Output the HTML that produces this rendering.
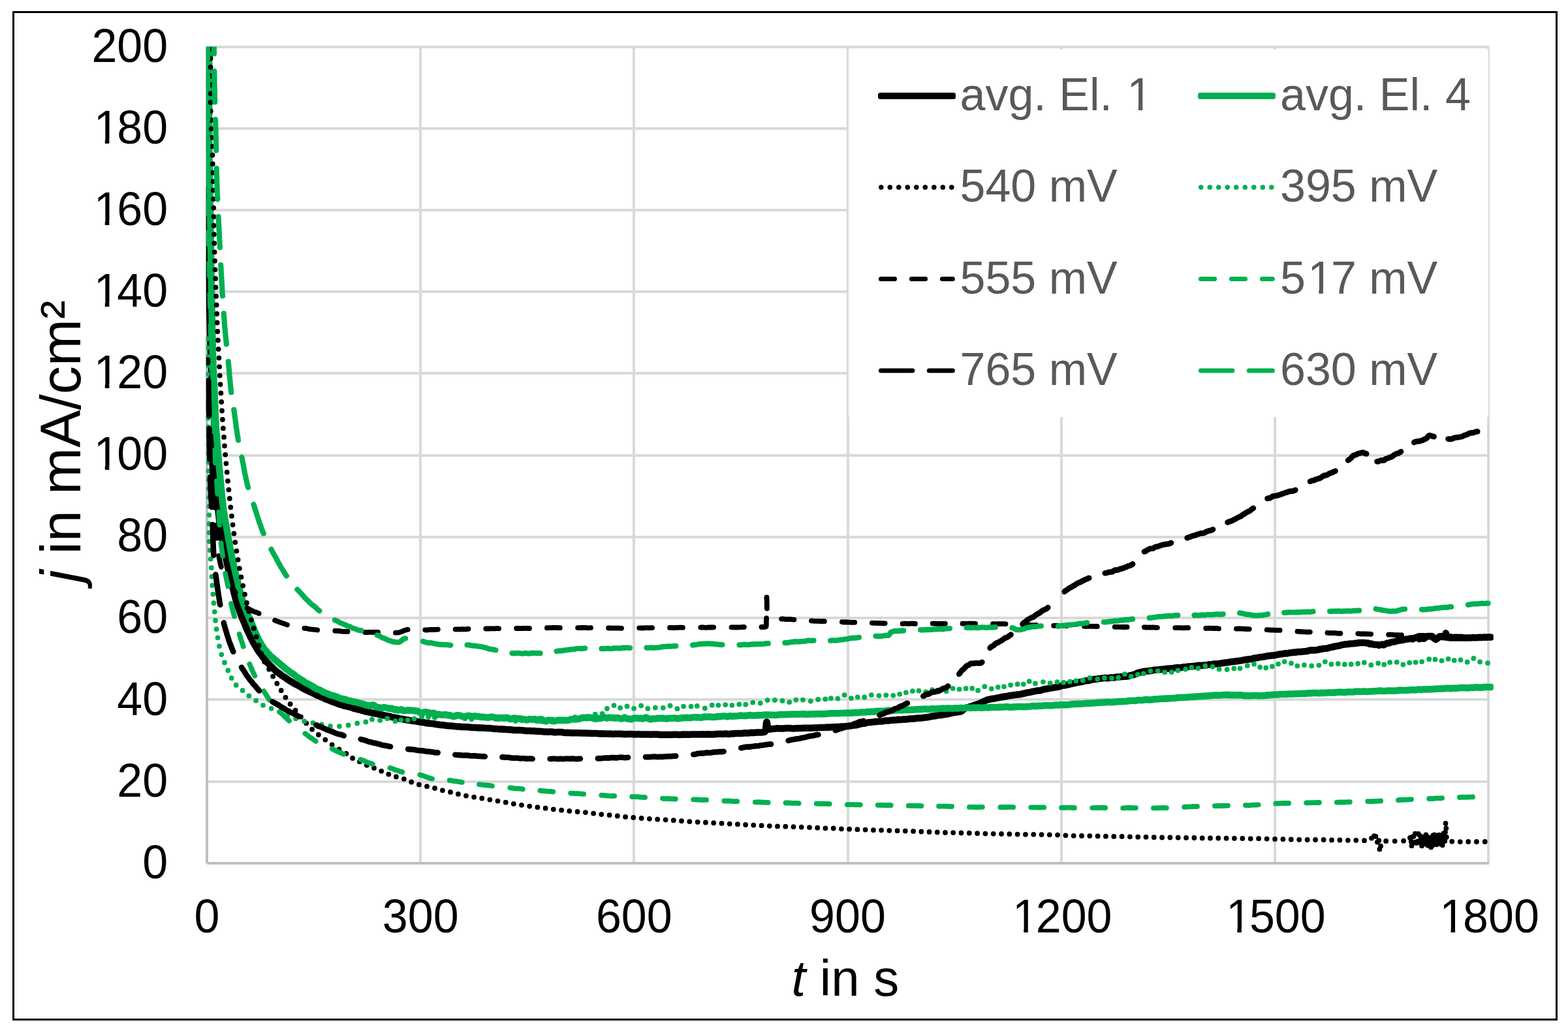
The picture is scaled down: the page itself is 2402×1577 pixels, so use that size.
<!DOCTYPE html>
<html lang="en">
<head>
<meta charset="utf-8">
<title>j in mA/cm² versus t in s</title>
<style>
html,body{margin:0;padding:0;background:#fff;}
body{width:2402px;height:1577px;overflow:hidden;}
svg{display:block;position:absolute;left:0;top:0;}
text{font-family:"Liberation Sans",Arial,Helvetica,sans-serif;}
.tick{font-size:70px;fill:#000;}
.leg{font-size:70px;fill:#595959;}
.grid{stroke:#D9D9D9;stroke-width:4;fill:none;}
.axis{stroke:#BFBFBF;stroke-width:4;fill:none;}
.s{fill:none;stroke-linejoin:round;stroke-linecap:round;}
.k{fill:none;stroke-linecap:butt;}
.kd{fill:none;stroke-linecap:round;}
</style>
</head>
<body>
<svg xmlns="http://www.w3.org/2000/svg" width="2402" height="1577" viewBox="0 0 2402 1577">
<rect x="0" y="0" width="2402" height="1577" fill="#fff"/>
<rect x="20.5" y="18.5" width="2364" height="1544" fill="none" stroke="#000" stroke-width="3"/>
<g class="grid">
<line x1="317" y1="72" x2="2281" y2="72"/>
<line x1="317" y1="197" x2="2281" y2="197"/>
<line x1="317" y1="322" x2="2281" y2="322"/>
<line x1="317" y1="447" x2="2281" y2="447"/>
<line x1="317" y1="572" x2="2281" y2="572"/>
<line x1="317" y1="698" x2="2281" y2="698"/>
<line x1="317" y1="823" x2="2281" y2="823"/>
<line x1="317" y1="947" x2="2281" y2="947"/>
<line x1="317" y1="1072" x2="2281" y2="1072"/>
<line x1="317" y1="1198" x2="2281" y2="1198"/>
<line x1="644" y1="72" x2="644" y2="1323"/>
<line x1="971" y1="72" x2="971" y2="1323"/>
<line x1="1299" y1="72" x2="1299" y2="1323"/>
<line x1="1626" y1="72" x2="1626" y2="1323"/>
<line x1="1953" y1="72" x2="1953" y2="1323"/>
<line x1="2280" y1="72" x2="2280" y2="1323"/>
</g>
<g class="axis">
<line x1="317" y1="72" x2="317" y2="1323"/>
<line x1="317" y1="1323" x2="2281" y2="1323"/>
</g>
<defs><clipPath id="plot"><rect x="315.8" y="71.5" width="1972" height="1253.5"/></clipPath></defs>
<g clip-path="url(#plot)">
<path class="s" d="M317.3 290L317.4 292.4L317.5 294.9L317.5 297.6L317.6 299.9L317.7 302.2L317.8 305L317.9 307.7L317.9 310L318 312.5L318.1 315.2L318.2 317.5L318.2 319.8L318.3 322.3L318.4 324.8L318.4 327.7L318.5 330.3L318.6 332.5L318.6 335.1L318.7 337.5L318.7 340L318.8 342.7L318.8 345.3L318.9 347.6L318.9 349.9L319 352.4L319 354.8L319.1 357.3L319.1 360.1L319.2 362.5L319.2 365L319.3 367.7L319.3 370L319.4 372.4L319.4 374.9L319.4 377.6L319.5 380.4L319.5 382.6L319.6 385.2L319.6 387.8L319.7 390.3L319.7 392.8L319.7 395.2L319.8 397.5L319.8 399.9L319.9 402.6L319.9 405.3L320 407.6L320 410L320 412.8L320.1 415.5L320.1 418L320.2 420.2L320.2 422.7L320.3 425.1L320.3 427.6L320.4 430L320.4 432.5L320.5 434.9L320.5 437.6L320.6 440.2L320.6 442.7L320.7 445.3L320.7 447.6L320.8 450.3L320.9 453L320.9 455.4L321 457.7L321 460.1L321.1 462.6L321.1 465.1L321.2 467.6L321.2 470L321.3 472.9L321.3 475.6L321.4 477.9L321.4 480.4L321.5 482.8L321.5 485.1L321.6 487.6L321.7 490.3L321.7 492.6L321.8 495.2L321.8 498L321.9 500.4L322 502.7L322 505.4L322.1 508L322.1 510.3L322.2 512.8L322.3 515.4L322.3 517.7L322.4 520.1L322.5 522.6L322.5 525.3L322.6 527.9L322.7 530.3L322.8 532.8L322.8 535.2L322.9 537.8L323 540.5L323.1 543L323.2 545.5L323.2 547.8L323.3 550.4L323.4 553.1L323.5 555.5L323.6 558.1L323.7 560.7L323.8 562.8L323.9 565.1L324.1 567.6L324.2 570.4L324.3 573.2L324.5 575.4L324.6 577.7L324.8 580.3L324.9 582.8L325.1 585.3L325.2 587.9L325.4 590.4L325.5 592.9L325.7 595.4L325.8 597.7L325.9 600.2L326 602.8L326.2 605.3L326.3 607.8L326.4 610.3L326.6 612.8L326.7 615.2L326.9 617.7L327 620.5L327.1 622.8L327.3 625L327.4 627.7L327.5 630.3L327.6 633.1L327.7 635.7L327.8 638.2L327.9 640.4L328 642.8L328 645.4L328.1 647.8L328.1 650.5L328.1 652.9L328.2 655.5L328.2 658.1L328.2 660.3L328.3 662.8L328.3 665.3L328.3 667.8L328.3 670.4L328.4 673L328.4 675.5L328.4 677.9L328.4 680.4L328.5 682.9L328.5 685.4L328.6 687.8L328.6 690.3L328.7 692.9L328.7 695.4L328.8 698.1L328.9 700.7L329 703.1L329.1 705.5L329.3 707.9L329.4 710.5L329.5 713.1L329.6 715.4L329.8 717.7L329.9 720.4L330 722.8L330.2 725.6L330.3 728.2L330.5 730.6L330.7 732.9L330.8 735.2L331 738.1L331.2 740.7L331.4 743.2L331.5 745.5L331.7 747.8L331.9 750.3L332.1 753L332.2 755.5L332.4 758L332.6 760.6L332.8 762.9L333 765.2L333.2 767.9L333.4 770.7L333.6 773.2L333.9 775.5L334.1 778L334.3 780.5L334.6 783.1L334.8 785.4L335.1 787.7L335.4 790.3L335.6 792.9L335.9 795.4L336.2 798L336.5 800.6L336.8 802.7L337.1 805.1L337.5 807.9L337.8 810.2L338.1 812.6L338.5 815.4L338.9 818L339.2 820.2L339.6 822.6L340 825.1L340.4 827.6L340.9 830.2L341.3 832.6L341.8 835L342.3 837.3L342.8 839.7L343.3 842.3L343.8 844.6L344.4 847.2L344.9 849.8L345.4 852.4L346 854.8L346.5 857.1L347 859.5L347.5 862.1L348.1 864.4L348.6 866.7L349.1 869.4L349.7 871.6L350.2 874.1L350.8 876.4L351.4 878.8L351.9 881.2L352.5 883.6L353.1 886.1L353.6 888.5L354.2 891.2L354.8 893.7L355.4 896.2L356 898.5L356.6 900.7L357.3 903.4L357.9 906L358.5 908.3L359.1 910.7L359.8 913.2L360.4 915.5L361.1 918.1L361.8 920.6L362.5 923L363.2 925.1L363.9 927.6L364.7 930L365.5 932.3L366.3 934.7L367.1 936.8L368 939.3L368.9 941.6L369.8 944.1L370.7 946.6L371.7 948.8L372.6 950.9L373.6 953.3L374.6 955.5L375.5 957.9L376.5 960.5L377.5 962.8L378.5 964.8L379.6 967.3L380.6 969.7L381.7 971.7L382.7 973.8L383.8 976.3L384.9 978.5L386.1 980.8L387.2 983.3L388.4 985.3L389.6 987.4L390.8 989.4L392.1 991.5L393.4 993.9L394.7 996L396.1 998L397.5 1000.2L399 1002L400.5 1003.8L402 1005.9L403.6 1008.1L405.1 1010.1L406.8 1012.2L408.4 1014.3L410.1 1015.9L411.8 1017.7L413.5 1019.6L415.2 1021.2L417 1022.8L418.8 1024.8L420.6 1026.4L422.4 1028.1L424.3 1029.7L426.3 1031L428.3 1032.5L430.3 1034L432.3 1035.8L434.4 1037L436.5 1038.2L438.6 1039.8L440.7 1041.4L442.9 1042.8L445 1044.1L447.2 1045.3L449.4 1046.7L451.5 1048L453.7 1049.1L455.8 1050.2L458 1051.3L460.2 1052.5L462.4 1054L464.6 1055.3L466.8 1056.3L469.1 1057.5L471.3 1058.5L473.6 1059.7L475.8 1060.7L478.1 1061.6L480.4 1062.8L482.7 1064.1L485 1065.2L487.2 1066L489.5 1066.8L491.8 1068L494.1 1069.1L496.4 1070.2L498.7 1071.3L501 1072.1L503.4 1072.9L505.7 1073.9L508 1074.9L510.4 1075.7L512.7 1076.5L515 1077.4L517.4 1078.5L519.8 1079.4L522.1 1080L524.5 1080.7L526.9 1081.5L529.3 1082L531.7 1082.5L534.1 1083.1L536.5 1083.8L539 1084.5L541.4 1085.5L543.8 1086L546.2 1086.7L548.7 1087.3L551.1 1087.7L553.5 1088.5L556 1089.3L558.4 1090L560.8 1090.5L563.3 1091L565.7 1091.5L568.2 1091.9L570.6 1092.7L573 1093L575.5 1093.6L577.9 1094.1L580.4 1094.6L582.8 1095.2L585.3 1095.7L587.7 1096.3L590.2 1096.7L592.6 1097.1L595.1 1097.6L597.5 1098L600 1098.9L602.4 1099.4L604.9 1099.7L607.3 1100.2L609.8 1100.8L612.2 1101.4L614.7 1101.8L617.2 1102.3L619.6 1102.6L622.1 1103.1L624.6 1103.5L627 1103.9L629.5 1104.4L632 1104.7L634.4 1105.1L636.9 1105.4L639.4 1105.9L641.9 1106.2L644.3 1106.6L646.8 1107.1L649.3 1107.2L651.8 1107.8L654.3 1108.3L656.8 1108.5L659.2 1108.8L661.7 1109.1L664.2 1109.3L666.7 1109.7L669.2 1110.1L671.7 1110.5L674.1 1110.9L676.6 1111L679.1 1111.2L681.6 1111.6L684.1 1112L686.6 1112.3L689.1 1112.6L691.6 1112.4L694.1 1112.8L696.6 1113.1L699 1113.4L701.5 1113.5L704 1113.6L706.5 1114L709 1114.1L711.5 1114L714 1114.3L716.5 1114.3L719 1114.4L721.5 1114.8L724 1115L726.5 1114.9L729 1115L731.5 1115.4L734 1115.3L736.5 1115.5L739 1115.6L741.5 1115.6L744 1115.9L746.5 1116L749 1116.1L751.5 1116.3L754 1116.6L756.5 1116.8L759 1116.9L761.5 1117.1L764 1117.4L766.5 1117.6L769 1117.5L771.5 1117.8L774 1117.8L776.5 1118.1L779 1118.2L781.5 1118.1L784 1118.5L786.5 1118.9L789 1119.1L791.5 1119.1L794 1119L796.5 1119.1L799 1119.2L801.5 1119.3L804 1119.8L806.5 1120L809 1120L811.5 1120.1L814 1120.2L816.5 1120.3L819 1120.3L821.5 1120.7L824 1120.8L826.5 1120.7L829 1120.9L831.5 1121.3L834 1121.4L836.5 1121.5L839 1121.8L841.5 1121.6L844 1121.4L846.5 1121.8L849 1122.2L851.5 1122.2L854 1122L856.5 1122L859 1122.1L861.5 1122.3L864 1122.7L866.5 1123L869 1122.8L871.6 1122.9L874.1 1123.2L876.6 1123.2L879.1 1123.3L881.6 1123.2L884.1 1123.2L886.6 1123.3L889.1 1123.5L891.6 1123.5L894.1 1123.5L896.6 1123.6L899.1 1123.7L901.6 1123.7L904.1 1123.8L906.6 1124L909.1 1123.9L911.6 1124L914.1 1124.1L916.6 1124.2L919.1 1124.4L921.6 1124.3L924.1 1124.4L926.6 1124.4L929.1 1124.6L931.6 1124.7L934.1 1124.5L936.6 1124.8L939.1 1125L941.6 1124.8L944.1 1124.7L946.6 1124.7L949.1 1124.8L951.7 1124.8L954.2 1125.1L956.7 1125.3L959.2 1125.2L961.7 1125.1L964.2 1125L966.7 1125.1L969.2 1125.2L971.7 1125.5L974.2 1125.4L976.7 1125.3L979.2 1125.3L981.7 1125.4L984.2 1125.6L986.7 1125.5L989.2 1125.6L991.7 1125.6L994.2 1125.6L996.7 1125.7L999.2 1125.6L1001.7 1125.6L1004.2 1125.6L1006.7 1125.6L1009.2 1125.7L1011.7 1126L1014.2 1126.1L1016.7 1126L1019.3 1125.9L1021.8 1125.9L1024.3 1125.9L1026.8 1125.9L1029.3 1126.1L1031.8 1125.8L1034.3 1125.8L1036.8 1125.8L1039.3 1125.9L1041.8 1126.1L1044.3 1125.8L1046.8 1125.5L1049.3 1125.7L1051.8 1125.6L1054.3 1125.7L1056.8 1125.8L1059.3 1125.5L1061.8 1125.5L1064.3 1125.6L1066.8 1125.4L1069.3 1125.4L1071.8 1125.6L1074.3 1125.4L1076.8 1125.3L1079.3 1125.6L1081.9 1125.5L1084.4 1125.3L1086.9 1125.4L1089.4 1125.4L1091.9 1125.5L1094.4 1125.3L1096.9 1125L1099.4 1125L1101.9 1124.7L1104.4 1124.7L1106.9 1125L1109.4 1124.8L1111.9 1124.5L1114.4 1124.8L1116.9 1125L1119.4 1124.6L1121.9 1124.3L1124.4 1124.4L1126.9 1124L1129.4 1123.9L1131.9 1124.1L1134.4 1124.1L1136.9 1124L1139.4 1123.4L1141.9 1123.3L1144.4 1123.6L1146.9 1123.4L1149.4 1123L1151.9 1122.7L1154.4 1122.9L1156.9 1122.7L1159.4 1122.5L1161.9 1122.5L1164.4 1122.4L1167.2 1122.4L1170.1 1122L1172 1121.3L1172.6 1120.2L1173.1 1117.9L1173.4 1114.3L1173.7 1110.7L1174 1107.8L1174.4 1106.3L1174.8 1106.6L1175.2 1109.2L1175.6 1113.1L1176.2 1116.3L1177 1117.7L1179.1 1117.7L1182 1117.1L1184.5 1117.1L1187 1116.8L1189.5 1116.3L1192 1116.3L1194.5 1116.6L1197 1116.5L1199.5 1116.4L1202 1116.2L1204.5 1116.1L1207 1116L1209.5 1115.9L1212 1116.3L1214.5 1116.4L1217 1116.4L1219.5 1116.1L1222 1116.2L1224.5 1116.1L1227 1116.1L1229.5 1115.9L1232 1115.6L1234.5 1115.7L1237 1115.8L1239.5 1115.8L1242 1115.7L1244.5 1115.7L1247 1115.6L1249.5 1115.2L1252.1 1115.4L1254.6 1115.1L1257.1 1114.9L1259.6 1114.9L1262.1 1114.9L1264.6 1114.8L1267.1 1114.6L1269.6 1114.7L1272.1 1114.5L1274.6 1114.3L1277.1 1114.2L1279.6 1114L1282.1 1114L1284.6 1114.1L1287.1 1113.6L1289.6 1113.5L1292.1 1113.6L1294.6 1113.3L1297.1 1113.1L1299.6 1112.9L1302 1112.4L1304.5 1112.2L1307 1111.7L1309.5 1111.4L1311.9 1111.3L1314.4 1110.6L1316.9 1110L1319.3 1109.3L1321.8 1108.9L1324.3 1108.6L1326.7 1108L1329.2 1107.4L1331.7 1107L1334.1 1106.9L1336.6 1106.6L1339.1 1106.3L1341.6 1106L1344.1 1105.9L1346.6 1105.6L1349.1 1105.4L1351.6 1105.4L1354.1 1104.8L1356.5 1104.5L1359 1104.5L1361.5 1104.5L1364 1103.9L1366.5 1103.8L1369 1103.6L1371.5 1103.6L1374 1103.3L1376.5 1102.7L1379 1103L1381.5 1102.8L1384 1102.4L1386.5 1102.3L1389 1102.4L1391.5 1102.1L1394 1101.4L1396.5 1101.5L1399 1101.6L1401.5 1101.3L1404 1100.7L1406.5 1100.6L1409 1100.5L1411.5 1100.4L1414 1100L1416.5 1099.6L1418.9 1099.5L1421.4 1099L1423.9 1098.6L1426.4 1098L1428.8 1097.5L1431.3 1097.4L1433.8 1097L1436.3 1096.4L1438.7 1096.1L1441.2 1096.1L1443.7 1095.4L1446.1 1095L1448.6 1094.7L1451.1 1094.3L1453.5 1093.9L1456 1093.2L1458.5 1092.7L1460.9 1092.1L1463.4 1091.8L1465.9 1091.4L1468.4 1091L1470.9 1090.7L1473.1 1089.8L1475 1088.2L1476.9 1086.4L1479 1085.3L1481.4 1084.4L1483.8 1083.7L1486.2 1082.9L1488.6 1082.2L1491 1081.4L1493.4 1080.4L1495.8 1079.7L1498.1 1079.2L1500.5 1078.1L1502.8 1077.1L1505 1075.8L1507.3 1074.9L1509.6 1073.8L1512 1072.7L1514.3 1072.2L1516.7 1071.7L1519.1 1071L1521.5 1070.7L1524 1070.5L1526.4 1069.9L1528.9 1069.4L1531.3 1068.9L1533.8 1068.3L1536.3 1068L1538.8 1067.5L1541.3 1067.3L1543.8 1066.8L1546.3 1066.1L1548.7 1065.9L1551.2 1065.5L1553.7 1065.1L1556.2 1064.9L1558.7 1064.5L1561.2 1064.3L1563.7 1064L1566.1 1063.2L1568.6 1062.8L1571 1062.2L1573.5 1061.5L1575.9 1061.3L1578.4 1060.8L1580.9 1060.1L1583.3 1059.6L1585.8 1059.1L1588.2 1058.6L1590.7 1058.5L1593.1 1058.3L1595.6 1057.6L1598 1056.7L1600.5 1056.2L1603 1055.8L1605.4 1055.3L1607.9 1054.9L1610.3 1054.4L1612.8 1054L1615.2 1053.7L1617.7 1053.2L1620.1 1052.8L1622.6 1052.3L1625 1051.4L1627.5 1050.6L1630 1050.6L1632.4 1049.9L1634.9 1049.5L1637.3 1049L1639.8 1048.2L1642.2 1047.9L1644.7 1047.4L1647.1 1046.7L1649.6 1046L1652 1045.8L1654.5 1045.4L1657 1044.9L1659.4 1044.3L1661.9 1043.6L1664.3 1043.3L1666.8 1043.1L1669.3 1042.7L1671.7 1041.8L1674.2 1041.3L1676.7 1040.8L1679.1 1040.9L1681.6 1040.5L1684.1 1039.9L1686.6 1039.7L1689 1039.4L1691.5 1039.1L1694 1039.1L1696.5 1039.3L1699 1039L1701.6 1038.4L1704.1 1038.4L1706.6 1038.4L1709.1 1037.8L1711.6 1037.6L1714.1 1037.5L1716.6 1037.3L1719.1 1036.9L1721.5 1036.8L1724 1036.7L1726.5 1036.5L1728.9 1036.1L1731.3 1035.1L1733.8 1034.7L1736.2 1034.2L1738.6 1033.3L1741 1032.2L1743.4 1031.2L1745.8 1030.5L1748.2 1030L1750.7 1029.4L1753.1 1028.9L1755.6 1028.6L1758 1028.6L1760.5 1028.1L1763 1027.9L1765.4 1027.4L1767.9 1026.8L1770.4 1026.8L1772.9 1026.6L1775.4 1026.3L1777.9 1026L1780.4 1025.7L1782.9 1025.7L1785.4 1025.1L1787.9 1024.7L1790.4 1024.8L1792.9 1024.4L1795.4 1024.2L1797.9 1023.9L1800.4 1023.4L1802.8 1023.3L1805.3 1023.3L1807.8 1023.3L1810.3 1022.8L1812.8 1022.3L1815.3 1022.2L1817.8 1022L1820.3 1021.5L1822.8 1021.4L1825.3 1021.2L1827.8 1021L1830.3 1020.7L1832.8 1020.3L1835.2 1020L1837.7 1019.8L1840.2 1019.9L1842.7 1019.7L1845.2 1019.6L1847.7 1019.3L1850.2 1018.8L1852.7 1018.4L1855.2 1018.5L1857.7 1017.9L1860.1 1017.5L1862.6 1017.6L1865.1 1017.4L1867.6 1017L1870.1 1016.6L1872.6 1016.1L1875.1 1015.9L1877.6 1015.4L1880 1015.2L1882.5 1014.9L1885 1014.4L1887.5 1014L1890 1013.9L1892.5 1013.5L1894.9 1013.2L1897.4 1012.9L1899.9 1012.5L1902.4 1012.1L1904.8 1011.6L1907.3 1011L1909.8 1011L1912.2 1010.5L1914.7 1010.2L1917.2 1009.9L1919.6 1009.2L1922.1 1008.6L1924.6 1008.4L1927.1 1007.9L1929.5 1007.2L1932 1007.1L1934.5 1006.8L1936.9 1006.3L1939.4 1005.9L1941.9 1005.2L1944.3 1005.1L1946.8 1004.7L1949.3 1004.5L1951.8 1004.4L1954.2 1003.9L1956.7 1003.4L1959.2 1002.7L1961.7 1002.4L1964.1 1002.3L1966.6 1001.6L1969.1 1001.3L1971.6 1001.5L1974.1 1000.8L1976.6 1000.5L1979.1 1000.1L1981.5 999.7L1984 999.8L1986.5 999.3L1989 999L1991.5 999.1L1994 998.8L1996.5 998.4L1999 998.3L2001.5 998.1L2003.9 997.4L2006.4 996.8L2008.9 996.5L2011.4 996.6L2013.9 996.5L2016.4 996.3L2018.8 995.9L2021.3 995.1L2023.8 994.9L2026.3 994.3L2028.7 993.9L2031.2 993.8L2033.7 993.5L2036.1 992.7L2038.6 992.2L2041.1 991.5L2043.5 991L2046 990.5L2048.4 989.9L2050.9 989.8L2053.4 989L2055.8 988.2L2058.3 987.9L2060.7 987.4L2063.2 987.3L2065.7 987.1L2068.2 986.5L2070.6 986.4L2073.1 986.3L2075.6 986.1L2078.1 985.7L2080.6 985.3L2083.1 985L2085.6 984.9L2088.2 984.9L2090.7 985.1L2093.1 985.4L2095.6 985.6L2098 987L2100.5 986.6L2102.9 987.4L2105.3 988L2107.7 988L2110.1 988.1L2112.6 989L2115 988.3L2117.4 987.6L2119.8 988.4L2122.3 986.9L2124.7 985.8L2127.1 985.5L2129.6 985L2132 984L2134.5 983.8L2136.9 983.3L2139.4 982.4L2141.9 981.8L2144.3 981.5L2146.8 981L2149.3 980.8L2151.7 980.2L2154.2 979.5L2156.7 979.4L2159.2 979L2161.6 978.3L2164.1 979.5L2166.6 977.8L2169.1 977L2171.6 976.1L2174.1 979.3L2176.6 978.3L2179.1 978.6L2181.7 978.7L2184.5 976.2L2187.4 975L2190.5 975.3L2193.5 974.9L2196.5 978.1L2199.5 980.1L2202.3 978.2L2205 975.5L2207.4 975.2L2209.5 976.1L2211.3 974.9L2212.7 975.2L2213.6 976.6L2214.2 972.6L2214.8 970.3L2215.3 972L2215.9 975.5L2216.7 976.8L2218.3 977.1L2220.7 977.4L2223.5 977.3L2226.5 977.4L2229.4 977.4L2231.9 977.4L2234.4 977.3L2236.9 977.5L2239.4 977.3L2241.9 977.4L2244.4 977.8L2246.9 977.4L2249.4 977.4L2252 977.6L2254.5 977.3L2257 977L2259.5 977.3L2262 977.3L2264.5 976.9L2267 976.7L2269.5 977L2272 976.7L2274.5 976.6L2277 976.7L2279.5 976.6L2284 976.6" stroke="#000" stroke-width="10.5" stroke-linecap="butt"/>
<path class="s" d="M320.2 59.9L320.2 62.6L320.2 64.8L320.2 67.1L320.2 70L320.2 72.8L320.2 75L320.2 77.7L320.2 80.3L320.2 82.4L320.2 84.9L320.2 87.5L320.2 89.8L320.2 92.6L320.2 95.4L320.2 97.6L320.2 99.7L320.2 102.4L320.2 105.2L320.2 107.5L320.2 110.1L320.2 112.6L320.2 114.8L320.2 117.2L320.2 119.7L320.2 122.7L320.2 125.3L320.2 127.6L320.2 130.2L320.2 132.7L320.2 135.3L320.2 137.9L320.2 140.1L320.2 142.5L320.2 145.3L320.2 147.7L320.2 150.2L320.2 152.9L320.2 155.2L320.2 157.9L320.2 160L320.2 162.2L320.2 165.1L320.2 167.9L320.2 170.1L320.2 172.3L320.2 175.1L320.2 177.5L320.2 180.1L320.2 182.7L320.2 185.2L320.2 187.7L320.2 189.9L320.2 192.3L320.2 195.1L320.2 197.4L320.2 200L320.2 202.4L320.2 204.7L320.2 207.3L320.2 210L320.2 212.8L320.3 215.6L320.3 217.8L320.3 220.1L320.3 222.7L320.3 225.1L320.4 227.4L320.4 229.7L320.4 232.6L320.5 235.4L320.5 237.9L320.5 240.3L320.6 242.7L320.6 245.2L320.7 247.6L320.7 250.1L320.7 252.8L320.8 255.3L320.8 257.5L320.9 260.2L320.9 262.9L321 265.4L321 267.8L321.1 270.5L321.1 272.7L321.2 274.9L321.2 277.4L321.3 279.8L321.3 282.8L321.4 285.1L321.4 287.6L321.5 290.3L321.5 292.7L321.6 294.9L321.6 297.7L321.6 300.3L321.7 302.7L321.7 305.4L321.8 307.9L321.8 310.4L321.9 312.7L321.9 315.1L321.9 317.5L322 320.4L322 322.8L322.1 324.9L322.1 327.4L322.1 330.3L322.2 332.8L322.2 335.3L322.3 338.1L322.3 340.5L322.3 342.8L322.4 345.5L322.4 348.1L322.5 350.2L322.5 352.8L322.5 355.5L322.6 357.8L322.6 360L322.7 362.8L322.7 365.6L322.7 367.8L322.8 370.2L322.8 372.7L322.9 375.1L322.9 377.8L322.9 380.3L323 382.8L323 385.3L323.1 387.6L323.1 390L323.1 393L323.2 395.2L323.2 397.6L323.3 400.3L323.3 402.6L323.4 405.4L323.4 407.7L323.4 410.2L323.5 412.6L323.5 415.3L323.6 418.1L323.6 420.6L323.7 422.7L323.7 425.5L323.8 428L323.8 430.3L323.8 433L323.9 435.3L323.9 437.9L324 440.2L324 442.9L324.1 445.3L324.1 447.8L324.2 450.6L324.2 453.3L324.2 455.3L324.3 457.9L324.3 460.5L324.4 463.1L324.4 465.5L324.5 467.7L324.5 470.3L324.6 472.9L324.6 475.4L324.6 477.9L324.7 480.2L324.7 482.9L324.8 485.6L324.8 488.2L324.9 490.4L324.9 492.8L325 495.2L325 497.6L325.1 500.5L325.1 503.2L325.2 505.8L325.2 508.1L325.3 510.7L325.3 513L325.4 515.1L325.4 517.6L325.5 520.1L325.5 522.5L325.6 525L325.7 528L325.7 530.7L325.8 533.2L325.9 535.6L325.9 537.9L326 540.3L326 542.7L326.1 545.4L326.2 548.1L326.3 550.3L326.3 552.9L326.4 555.2L326.5 557.8L326.6 560.4L326.7 562.7L326.8 565.4L326.9 567.7L327 570.4L327.1 573L327.3 575.3L327.4 577.8L327.5 580.2L327.6 582.8L327.8 585.7L327.9 588.2L328 590.5L328.1 592.9L328.3 595.1L328.4 597.8L328.5 600.6L328.6 602.9L328.7 605.5L328.8 608.1L328.9 610.3L329 612.8L329.1 615.7L329.2 617.7L329.3 620.4L329.4 623.3L329.5 625.3L329.6 627.7L329.6 630.3L329.7 632.9L329.8 635.4L330 637.8L330.1 640.2L330.2 642.9L330.3 645.2L330.5 648L330.6 650.8L330.7 652.8L330.9 655.3L331.1 658.2L331.3 660.6L331.4 662.9L331.6 665.5L331.8 667.8L332 670.1L332.2 672.6L332.4 675.1L332.6 677.9L332.8 680.7L333 683L333.2 685L333.4 687.7L333.6 690.3L333.8 692.7L334 695L334.2 697.5L334.5 700.4L334.7 702.9L334.9 705.3L335.1 707.9L335.3 710.6L335.6 713.1L335.8 715.5L336 717.7L336.2 720L336.5 722.8L336.7 725.4L336.9 727.6L337.2 729.8L337.4 732.4L337.6 735L337.9 737.8L338.1 740.5L338.3 743L338.5 745.4L338.8 747.9L339 750L339.2 752.6L339.5 755L339.7 757.2L339.9 760.1L340.2 762.5L340.4 765L340.7 767.3L341 769.6L341.3 772.2L341.6 774.8L341.9 777.5L342.2 779.8L342.5 782.6L342.9 785L343.3 787.4L343.7 790.1L344.1 792.7L344.5 795.2L344.9 797.3L345.3 799.6L345.8 802.3L346.2 804.7L346.7 807L347.1 809.7L347.6 812.1L348 814.3L348.5 816.9L348.9 819.3L349.4 821.8L349.8 824.6L350.3 827L350.7 829.4L351.2 831.7L351.6 834.2L352.1 836.8L352.5 839.4L353 841.6L353.5 843.9L354 846.3L354.4 848.9L354.9 851.5L355.4 854.1L355.9 856.8L356.4 858.9L357 860.9L357.5 863.7L358 866.2L358.6 868.7L359.1 871.2L359.7 873.6L360.3 876.2L360.8 878.5L361.4 880.6L362 882.8L362.6 885.7L363.2 888.1L363.8 890.2L364.4 892.9L364.9 895.4L365.5 897.9L366.1 900.4L366.7 902.7L367.3 904.9L367.9 907.6L368.6 909.9L369.2 912.2L369.9 915L370.6 917.6L371.3 919.8L372 922.2L372.8 924.6L373.6 926.7L374.5 929L375.4 931.1L376.3 933.5L377.3 935.9L378.3 938.3L379.2 940.5L380.2 943.1L381.2 945.1L382.2 947.1L383.2 949.7L384.2 952.1L385.1 954.6L386.1 956.9L387.1 959.3L388.1 961.4L389 964L390 966.7L391 969.1L392.1 970.9L393.1 973.3L394.1 975.8L395.2 977.9L396.3 980L397.5 982.5L398.7 984.4L399.9 986.7L401.1 988.7L402.4 990.6L403.7 992.7L405.1 994.9L406.6 996.4L408.2 998.4L409.8 1000.2L411.5 1002.1L413.3 1004.2L415.1 1005.9L416.9 1007.1L418.8 1008.8L420.7 1010.7L422.7 1012.2L424.7 1014.1L426.6 1015.5L428.6 1017.2L430.6 1019L432.6 1020.3L434.5 1022L436.5 1023.9L438.4 1025.4L440.4 1026.9L442.3 1028.4L444.3 1029.8L446.3 1031.2L448.4 1032.5L450.4 1033.8L452.4 1035.5L454.5 1037.2L456.6 1038.5L458.7 1039.9L460.8 1041.5L462.9 1042.5L465 1043.9L467.1 1045.6L469.2 1046.9L471.4 1047.7L473.5 1048.9L475.7 1050.3L477.9 1051.6L480.1 1052.6L482.3 1054.2L484.5 1055.7L486.8 1056.3L489 1057.2L491.3 1058.2L493.5 1059.5L495.8 1061L498.1 1061.8L500.4 1062.6L502.7 1063.6L505 1064.5L507.3 1065.7L509.7 1066.1L512.1 1066.7L514.4 1067.4L516.8 1068.4L519.2 1069.5L521.6 1070.3L524 1071.1L526.5 1071.5L528.9 1072L531.3 1072.9L533.7 1073.6L536.2 1074L538.6 1074.6L541 1075.5L543.4 1075.7L545.9 1076.3L548.3 1077L550.7 1077.4L553.2 1078.3L555.6 1078.8L558.1 1079.5L560.5 1080.8L563 1080.7L565.4 1081.9L567.9 1081.4L570.3 1080.5L572.8 1080.7L575.2 1082.8L577.7 1084L580.2 1084.2L582.7 1084.7L585.1 1085.2L587.6 1084.1L590.1 1084.3L592.6 1085L595 1085.5L597.5 1086.2L600 1085.6L602.5 1087L605 1087.8L607.4 1087.2L609.9 1088.5L612.4 1088.1L614.9 1087.3L617.4 1089L619.9 1089.1L622.4 1089L624.9 1088.2L627.4 1088.8L629.9 1088.8L632.3 1089L634.8 1089.4L637.3 1089.3L639.8 1089.8L642.3 1091.5L644.8 1092.3L647.3 1092.7L649.7 1091.5L652.2 1091.3L654.7 1092L657.2 1091.9L659.7 1093.5L662.1 1093.2L664.6 1092.7L667.1 1093.9L669.6 1095.6L672.1 1094.6L674.5 1095.1L677 1095.4L679.5 1095.5L682 1095.1L684.5 1095.7L687 1096.1L689.5 1096.3L692 1097.2L694.5 1098L697 1097.6L699.5 1096.2L702 1096.3L704.5 1096.6L707 1097.5L709.5 1098.4L712 1098.1L714.5 1097.6L717 1096.9L719.5 1097L722 1097.7L724.5 1098.1L727 1097.2L729.5 1097.9L732 1098.1L734.5 1098.3L737 1098.9L739.5 1098.8L742 1099.1L744.5 1099.3L747 1099.8L749.5 1099.3L752 1098.7L754.5 1098.8L757 1099.3L759.5 1100.6L762 1099.9L764.5 1100.7L767 1100.2L769.5 1100L772 1100.8L774.5 1100.2L777 1099.8L779.5 1101L782 1102.1L784.5 1101.5L786.9 1100.5L789.4 1100.7L791.9 1101.3L794.4 1101.5L796.9 1101.3L799.4 1102.8L801.9 1102.2L804.4 1102.6L806.9 1103.6L809.4 1102.8L811.9 1102.1L814.4 1102.6L816.9 1102.5L819.4 1102L821.9 1103.9L824.4 1103.4L826.9 1102.2L829.4 1102.4L831.9 1103.8L834.4 1105.1L836.9 1105.4L839.4 1103.8L841.9 1103.8L844.4 1104.5L846.9 1105L849.4 1105.2L851.9 1104.4L854.4 1104L856.9 1103.6L859.4 1103.8L861.9 1104.1L864.4 1103.6L866.9 1104.1L869.4 1103.9L871.9 1103.5L874.4 1102.4L876.9 1102.4L879.4 1101.8L881.9 1102.5L884.4 1102L886.9 1101.8L889.4 1100.8L891.9 1100L894.4 1099.8L896.9 1100L899.4 1100.2L901.9 1099.6L904.4 1100.1L906.9 1100L909.4 1100.9L911.9 1101.7L914.4 1101.5L916.9 1100.7L919.4 1101L921.9 1100.2L924.4 1099.3L926.9 1099.4L929.4 1100.6L931.9 1100L934.4 1099.6L936.9 1100.1L939.4 1100.1L941.9 1100.5L944.4 1100.2L946.9 1100.3L949.4 1101L951.9 1101.6L954.4 1100.6L956.9 1099.5L959.4 1101.2L961.9 1101.5L964.4 1101.8L966.9 1102.4L969.4 1101.3L971.9 1100.6L974.4 1100.6L976.9 1100.8L979.4 1101.1L981.9 1100.6L984.4 1101.6L986.9 1100.6L989.4 1099.5L991.9 1100.6L994.4 1101.8L996.9 1102.4L999.4 1101.6L1001.9 1101.4L1004.4 1101.5L1006.9 1100.7L1009.4 1101.2L1012 1100.7L1014.5 1100.5L1017 1101.2L1019.5 1101.3L1022 1101.5L1024.5 1100.8L1027 1100.7L1029.5 1100.7L1032 1100.4L1034.5 1100.4L1037 1101.1L1039.5 1101.3L1042 1100.6L1044.5 1100.2L1047 1100.2L1049.5 1100.1L1052 1099.8L1054.5 1100.1L1057 1100.3L1059.5 1099.6L1062 1099.3L1064.5 1099.3L1067 1099.4L1069.5 1099.3L1072 1099.6L1074.5 1099.7L1077 1099L1079.5 1098.5L1082 1098.7L1084.5 1098.6L1087 1098.4L1089.5 1098.7L1092 1099L1094.5 1098.9L1097 1098.5L1099.5 1098L1102 1098.3L1104.5 1098L1107 1097.5L1109.5 1097.4L1112 1097.9L1114.5 1098.4L1117 1097.4L1119.5 1097.3L1122 1097.8L1124.5 1097.5L1127 1097.4L1129.5 1097.3L1132 1097.1L1134.5 1096.4L1137 1096.7L1139.5 1096.9L1142 1097.1L1144.5 1096.8L1147 1096.2L1149.5 1096L1152 1096.6L1154.5 1096.5L1157 1096.4L1159.5 1096.2L1162 1096.1L1164.5 1096.2L1167 1096.2L1169.5 1095.8L1172 1095.6L1174.5 1095.5L1177 1095.6L1179.5 1095.8L1182 1095.7L1184.5 1095.8L1187 1095.9L1189.5 1095.8L1192 1095.5L1194.5 1095.1L1197 1095.2L1199.5 1095.3L1202 1095L1204.5 1095.1L1207 1095L1209.5 1094.8L1212 1094.7L1214.5 1094.7L1217 1094.5L1219.5 1094.5L1222 1094.7L1224.6 1094.6L1227.1 1094.5L1229.6 1094.4L1232.1 1094.3L1234.6 1094.7L1237.1 1094.7L1239.6 1094.4L1242.1 1094.4L1244.6 1094.3L1247.1 1094.3L1249.6 1094.4L1252.1 1094L1254.6 1094L1257.1 1094.2L1259.6 1094.1L1262.1 1094.2L1264.6 1093.9L1267.1 1093.8L1269.6 1093.6L1272.1 1093.3L1274.6 1093.3L1277.1 1093.2L1279.6 1093.2L1282.1 1093.3L1284.6 1093.2L1287.1 1093.1L1289.6 1093L1292.1 1092.9L1294.6 1092.8L1297.1 1092.8L1299.6 1092.5L1302.1 1092.7L1304.6 1092.7L1307.1 1092.3L1309.6 1092.1L1312.1 1092.2L1314.6 1092.2L1317.1 1091.9L1319.6 1091.4L1322.1 1091.6L1324.6 1091.7L1327.1 1091.2L1329.6 1090.8L1332.1 1091L1334.6 1090.6L1337.1 1090.7L1339.6 1090.7L1342.1 1090.1L1344.6 1090L1347.1 1089.8L1349.6 1090L1352.1 1090.1L1354.6 1089.8L1357.1 1089.3L1359.6 1089L1362 1088.8L1364.5 1089L1367 1089L1369.5 1088.8L1372 1088.7L1374.5 1088.3L1377 1088L1379.5 1088.2L1382 1088.4L1384.5 1088L1387 1087.7L1389.5 1088L1392 1087.9L1394.5 1087.7L1397 1087.8L1399.5 1087.8L1402 1087.4L1404.5 1087.1L1407 1087.2L1409.5 1087.1L1412 1087L1414.5 1086.8L1417 1086.5L1419.6 1086.8L1422.1 1087.1L1424.6 1086.7L1427.1 1086.3L1429.6 1086.2L1432.1 1086.5L1434.6 1086.6L1437.1 1086.1L1439.6 1086L1442.1 1085.8L1444.6 1085.5L1447.1 1085.9L1449.6 1085.8L1452.1 1085.4L1454.6 1085.5L1457.1 1085.8L1459.6 1085.9L1462.1 1085.4L1464.6 1085.3L1467.1 1085.5L1469.6 1085.2L1472.1 1084.9L1474.6 1085.2L1477.1 1085L1479.6 1084.8L1482.1 1084.6L1484.6 1084.8L1487.1 1084.9L1489.6 1084.7L1492.1 1084.6L1494.6 1084.8L1497.1 1084.5L1499.6 1084.6L1502.1 1084.8L1504.6 1084.8L1507.1 1084.6L1509.6 1084.1L1512.1 1084.4L1514.6 1084.4L1517.1 1084L1519.6 1083.9L1522.1 1084L1524.6 1083.9L1527.1 1084.1L1529.6 1083.9L1532.1 1083.5L1534.6 1083.9L1537.1 1083.6L1539.6 1083.2L1542.1 1083.3L1544.6 1083.5L1547.1 1083.8L1549.6 1083.9L1552.1 1083.3L1554.6 1083.5L1557.1 1083.3L1559.6 1083.1L1562.1 1083.1L1564.6 1083.1L1567.1 1083.2L1569.6 1083.3L1572.1 1083L1574.6 1082.9L1577.1 1082.8L1579.6 1082.4L1582.1 1082L1584.6 1082L1587.1 1082.4L1589.6 1082L1592.1 1081.6L1594.6 1081.9L1597.1 1081.7L1599.6 1081.2L1602.1 1081.2L1604.6 1081.3L1607.1 1081.3L1609.6 1081.2L1612.1 1081.3L1614.6 1080.8L1617.1 1080.4L1619.6 1080.6L1622.1 1080.7L1624.6 1080.2L1627.1 1080.2L1629.6 1080.3L1632.1 1080.3L1634.6 1080.2L1637.1 1080.1L1639.6 1079.6L1642.1 1079.2L1644.6 1079.1L1647.1 1079.1L1649.6 1078.8L1652.1 1078.6L1654.6 1078.9L1657.1 1078.6L1659.6 1078.4L1662.1 1078.1L1664.6 1077.8L1667.1 1077.7L1669.6 1078L1672.1 1077.6L1674.6 1077.4L1677.1 1077.4L1679.6 1077L1682.1 1077L1684.6 1076.8L1687.1 1076.4L1689.6 1076.4L1692.1 1076.4L1694.6 1076.2L1697.1 1076L1699.6 1076.1L1702.1 1076.3L1704.6 1076.2L1707.1 1075.7L1709.6 1075.6L1712.1 1075.2L1714.6 1075.3L1717.1 1075.2L1719.6 1074.9L1722.1 1075L1724.6 1074.8L1727 1074.5L1729.5 1074L1732 1073.9L1734.5 1073.7L1737 1073.8L1739.5 1073.9L1742 1073.3L1744.5 1073L1747 1073L1749.5 1073.2L1752 1072.7L1754.5 1072.3L1757 1072.3L1759.5 1072.5L1762 1072.6L1764.5 1072.3L1767 1071.9L1769.5 1071.5L1772 1071.5L1774.5 1071.3L1777 1071L1779.5 1071L1782 1070.7L1784.5 1070.5L1787 1070.7L1789.5 1070.3L1792 1070.4L1794.5 1070.1L1797 1070.1L1799.5 1070L1802 1069.6L1804.5 1069.2L1807 1069L1809.5 1069.1L1812 1068.9L1814.5 1068.8L1817 1068.8L1819.4 1068.5L1821.9 1068.4L1824.4 1068.1L1826.9 1068.1L1829.4 1067.8L1831.9 1067.6L1834.4 1067.4L1836.9 1067.2L1839.4 1067L1841.9 1067L1844.4 1066.8L1846.9 1066.5L1849.4 1066.4L1851.9 1066.4L1854.4 1066.1L1856.9 1065.9L1859.4 1065.6L1861.9 1065.4L1864.4 1065.6L1866.9 1065.8L1869.4 1065.4L1871.9 1065.3L1874.4 1065.1L1876.9 1065.1L1879.4 1064.8L1881.9 1064.9L1884.4 1065.4L1886.9 1065.1L1889.4 1065.3L1891.9 1065.4L1894.4 1065.2L1896.9 1065.3L1899.4 1065.3L1901.9 1065.3L1904.4 1065.8L1906.9 1066.2L1909.4 1066.3L1911.9 1066.3L1914.4 1066.4L1916.9 1066.1L1919.4 1066.1L1921.9 1066.1L1924.4 1066.1L1926.9 1066.2L1929.4 1066.4L1931.9 1066.1L1934.4 1066L1936.9 1066.2L1939.4 1065.7L1941.9 1065.3L1944.4 1065.4L1946.9 1064.9L1949.4 1064.7L1951.9 1064.7L1954.4 1064.4L1956.9 1064.5L1959.4 1064.3L1961.9 1063.9L1964.4 1064.1L1966.9 1064L1969.4 1064L1971.9 1063.7L1974.4 1063.4L1976.9 1063.7L1979.4 1063.4L1981.9 1063.4L1984.4 1063.2L1986.9 1063L1989.4 1063.2L1991.9 1063.1L1994.4 1062.7L1996.9 1062.9L1999.4 1063L2001.9 1062.5L2004.4 1062.2L2006.9 1062.5L2009.4 1062.2L2011.9 1062L2014.4 1061.9L2016.9 1062.1L2019.4 1062.3L2021.9 1062.2L2024.4 1061.8L2026.9 1061.9L2029.4 1062.1L2031.9 1061.7L2034.4 1061.4L2036.9 1061.6L2039.4 1061.6L2041.9 1061.6L2044.4 1061.5L2046.9 1061L2049.4 1061L2051.9 1060.7L2054.4 1060.7L2056.9 1061L2059.4 1061L2061.9 1060.9L2064.4 1060.5L2066.9 1060.5L2069.4 1060.6L2071.9 1060.4L2074.4 1060.2L2076.9 1059.8L2079.4 1059.7L2081.9 1059.8L2084.4 1060L2086.9 1059.8L2089.4 1059.6L2091.9 1059.8L2094.4 1059.9L2096.9 1059.7L2099.4 1059.5L2101.9 1059.5L2104.4 1059.3L2106.9 1059.2L2109.4 1059.1L2111.9 1058.8L2114.5 1058.5L2117 1058.9L2119.5 1058.9L2122 1058.9L2124.5 1058.7L2127 1058.4L2129.5 1058.5L2132 1058.8L2134.5 1058.7L2137 1058.6L2139.5 1058.6L2142 1058L2144.5 1057.7L2147 1057.8L2149.5 1058L2152 1057.9L2154.5 1057.8L2157 1057.9L2159.5 1057.4L2162 1057.3L2164.5 1057.3L2167 1057.4L2169.5 1057.3L2172 1056.8L2174.5 1056.8L2177 1057L2179.5 1056.6L2182 1056.6L2184.5 1056.6L2187 1056.5L2189.5 1056.4L2192 1056.3L2194.5 1056.2L2197 1055.9L2199.5 1055.6L2202 1055.7L2204.5 1055.4L2207 1055.5L2209.5 1055.6L2212 1055.2L2214.5 1055.1L2217 1054.8L2219.5 1054.8L2222 1055.2L2224.5 1054.8L2227 1054.7L2229.5 1054.6L2232 1054.7L2234.5 1054.5L2237 1054.1L2239.5 1054L2242 1054.2L2244.5 1054.1L2247 1054.2L2249.5 1054.4L2252 1053.8L2254.5 1053.7L2257 1053.9L2259.5 1053.5L2262 1053.2L2264.5 1053.6L2267 1053.8L2269.5 1053.7L2272 1053.3L2274.5 1052.9L2277 1053L2279.5 1053L2284 1053" stroke="#00B050" stroke-width="10.5" stroke-linecap="butt"/>
<path class="s" d="M322.6 62.5h0.01M322.6 76h0.01M322.6 89.5h0.01M322.6 103h0.01M322.6 116.5h0.01M322.6 130h0.01M322.6 143.5h0.01M322.6 157h0.01M322.8 170.5h0.01M323.2 183.9h0.01M323.7 197.4h0.01M324.4 210.8h0.01M325 224.3h0.01M325.5 237.7h0.01M325.8 251.2h0.01M326.1 264.7h0.01M326.4 278.1h0.01M326.7 291.6h0.01M326.9 305.1h0.01M327.2 318.6h0.01M327.4 332.2h0.01M327.6 345.7h0.01M327.9 359.2h0.01M328.2 372.8h0.01M328.6 386.3h0.01M329.1 399.8h0.01M329.6 413.3h0.01M330.1 426.9h0.01M330.5 440.4h0.01M331.1 453.9h0.01M331.6 467.4h0.01M332.2 481h0.01M332.7 494.5h0.01M333.3 508h0.01M334 521.5h0.01M334.7 535.1h0.01M335.4 548.6h0.01M336.1 562.1h0.01M336.8 575.6h0.01M337.6 589.1h0.01M338.4 602.5h0.01M339.2 616h0.01M340 629.5h0.01M340.9 643h0.01M341.9 656.4h0.01M343 669.9h0.01M344 683.3h0.01M345.2 696.8h0.01M346.4 710.3h0.01M347.7 723.7h0.01M349 737.2h0.01M350.4 750.6h0.01M351.8 764h0.01M353.3 777.5h0.01M354.9 790.9h0.01M356.6 804.3h0.01M358.4 817.7h0.01M360.3 831.1h0.01M362.4 844.4h0.01M364.6 857.8h0.01M366.9 871.1h0.01M369.5 884.3h0.01M372.2 897.6h0.01M375 910.8h0.01M378 924h0.01M381.3 937h0.01M384.9 950.1h0.01M388.7 963h0.01M392.8 975.9h0.01M396.6 988.9h0.01M400.4 1001.8h0.01M405.2 1014.5h0.01M412.1 1025.7h0.01M418.1 1036.6h0.01M424.3 1047.5h0.01M430.7 1058.2h0.01M437.4 1068.8h0.01M444.6 1078.9h0.01M452.6 1088.7h0.01M460.9 1098.6h0.01M469.2 1108.4h0.01M478.1 1117.7h0.01M487.9 1126h0.01M498.3 1133.7h0.01M508.7 1141.3h0.01M519.5 1148.3h0.01M530.3 1154.9h0.01M540.1 1162h0.01M550.9 1167.3h0.01M561.8 1172.7h0.01M573 1177.1h0.01M584.2 1181.8h0.01M595.3 1186.6h0.01M606.9 1190.5h0.01M618.8 1193.8h0.01M630.2 1198.5h0.01M641.9 1202.4h0.01M654 1205.2h0.01M666 1208h0.01M677.9 1211.3h0.01M690 1213.9h0.01M701.9 1216.9h0.01M714 1219.6h0.01M726.1 1221.6h0.01M738.2 1223.5h0.01M750.4 1225.6h0.01M762.5 1227.6h0.01M774.7 1229.7h0.01M786.8 1231.9h0.01M799 1233.8h0.01M811.2 1235.6h0.01M823.4 1237.2h0.01M835.6 1238.7h0.01M847.8 1240.3h0.01M860.1 1241.7h0.01M872.3 1242.9h0.01M884.6 1244h0.01M896.9 1245.1h0.01M909.1 1246.6h0.01M921.3 1248.1h0.01M933.6 1249.2h0.01M945.8 1250.5h0.01M958.1 1251.9h0.01M970.3 1252.9h0.01M982.6 1254h0.01M994.9 1254.8h0.01M1007.2 1255.7h0.01M1019.5 1256.4h0.01M1031.8 1257.2h0.01M1044 1258.2h0.01M1056.3 1259.1h0.01M1068.7 1259.8h0.01M1080.9 1260.5h0.01M1093.2 1261.2h0.01M1105.5 1261.8h0.01M1117.7 1262.6h0.01M1129.9 1263.2h0.01M1142.1 1264h0.01M1154.3 1264.6h0.01M1166.6 1265.2L1166.6 1265.2L1166.6 1265.2M1178.8 1265.8h0.01M1191 1266.4h0.01M1203.3 1266.7h0.01M1215.5 1267.1h0.01M1227.7 1267.6h0.01M1240 1268.1h0.01M1252.2 1268.7h0.01M1264.4 1269.3h0.01M1276.7 1269.5h0.01M1288.9 1270.3h0.01M1301.1 1270.7h0.01M1313.4 1271.2h0.01M1325.6 1271.6h0.01M1337.9 1272.2h0.01M1350.1 1272.3h0.01M1362.3 1272.8h0.01M1374.6 1273.2h0.01M1386.8 1273.5h0.01M1399.1 1273.9L1399.1 1273.9L1399.1 1273.9M1411.3 1274.5h0.01M1423.5 1275h0.01M1435.8 1275.5h0.01M1448 1276h0.01M1460.2 1276.1h0.01M1472.5 1276.5h0.01M1484.8 1276.7h0.01M1497.1 1277.2h0.01M1509.4 1277.6h0.01M1521.7 1277.8h0.01M1534 1278h0.01M1546.3 1278.2h0.01M1558.6 1278.6h0.01M1570.9 1278.8h0.01M1583.2 1278.8h0.01M1595.5 1279.1h0.01M1607.8 1279.3h0.01M1620.1 1279.6h0.01M1632.4 1280.3h0.01M1644.7 1280.8h0.01M1657 1281h0.01M1669.3 1281.1h0.01M1681.6 1281.4h0.01M1693.9 1281.7h0.01M1706.3 1281.9h0.01M1718.6 1281.9h0.01M1730.9 1282.3h0.01M1743.2 1282.7h0.01M1755.5 1282.8h0.01M1767.8 1283.2h0.01M1780.1 1283.5h0.01M1792.4 1283.5h0.01M1804.7 1283.7h0.01M1817.1 1283.9h0.01M1829.4 1284h0.01M1841.7 1284.4h0.01M1854 1284.5h0.01M1866.3 1284.5h0.01M1878.6 1284.7h0.01M1890.9 1284.8h0.01M1903.3 1284.9h0.01M1915.7 1285.3h0.01M1928.1 1285.2h0.01M1940.6 1285.6h0.01M1953 1285.9h0.01M1965.4 1286.1h0.01M1977.8 1286.5h0.01M1990.2 1286.8h0.01M2002.7 1287h0.01M2015.1 1287h0.01M2027.6 1287h0.01M2040 1287.4h0.01M2052.4 1287.5h0.01M2064.8 1287.8h0.01M2077.3 1287.8h0.01M2090 1288.2h0.01M2101 1284.6h0.01M2105.1 1281.2h0.01M2107.4 1281.8h0.01M2109.9 1290.6h0.01M2112.3 1288.2h0.01M2113.4 1301.5h0.01M2115.1 1296.7h0.01M2123.2 1289h0.01M2136.7 1289.1h0.01M2150.1 1288.7h0.01M2160 1283.9h0.01M2161.7 1289.8h0.01M2162.5 1296.2h0.01M2163 1282.8h0.01M2164.2 1291.7h0.01M2165.5 1281.7h0.01M2167.2 1291h0.01M2167.9 1277.6h0.01M2168.8 1290.5h0.01M2169.7 1291.9h0.01M2170.8 1290h0.01M2172.1 1291.3h0.01M2172.7 1277.9h0.01M2173.4 1290.5h0.01M2174.1 1288.6h0.01M2175 1280.6h0.01M2176 1290.2h0.01M2177.2 1282.9h0.01M2178.1 1296.3h0.01M2179.1 1282.9h0.01M2180.1 1290.6h0.01M2181.2 1288.2h0.01M2182.4 1293.1h0.01M2183.6 1291.3h0.01M2184.4 1279.5h0.01M2185.1 1292.9h0.01M2186.2 1282.3h0.01M2187 1295.5h0.01M2187.9 1289.2h0.01M2189.9 1291.4h0.01M2191.3 1288.8h0.01M2192.1 1298.4h0.01M2192.6 1285h0.01M2193.4 1282.7h0.01M2194 1296.1h0.01M2194.7 1287.8h0.01M2195.4 1280.1h0.01M2195.9 1293.5h0.01M2196.8 1292.8h0.01M2197.4 1279.4h0.01M2198.2 1288.9h0.01M2199.3 1284h0.01M2200.3 1294.3h0.01M2201.1 1286h0.01M2202.1 1283.3h0.01M2203.3 1289h0.01M2204.3 1279.6h0.01M2205.1 1293h0.01M2206.8 1287.2h0.01M2208.2 1288.1h0.01M2209.2 1281.8h0.01M2209.7 1295.2h0.01M2210.5 1290.3h0.01M2211.3 1277.5h0.01M2213.3 1288.9h0.01M2214 1275.4h0.01M2214.5 1262h0.01M2215.3 1269.5h0.01M2215.8 1282.9h0.01M2224.2 1289.6h0.01M2236.8 1290.1L2236.8 1290.1L2236.8 1290.1M2249.3 1289.9h0.01M2261.9 1290h0.01M2274.7 1290h0.01" stroke="#000" stroke-width="7.8"/>
<path class="s" d="M317.4 519.3h0.01M317.4 532.8h0.01M317.5 546.3h0.01M317.6 559.8h0.01M317.8 573.3h0.01M317.9 586.8h0.01M318 600.3h0.01M318.1 613.8h0.01M318.3 627.3h0.01M318.5 640.8h0.01M318.7 654.3h0.01M318.9 667.8h0.01M319.1 681.3h0.01M319.2 694.8h0.01M319.4 708.3h0.01M319.6 721.8h0.01M319.8 735.3h0.01M320 748.8h0.01M320.1 762.3h0.01M320.3 775.8h0.01M320.4 789.3h0.01M320.5 802.8h0.01M320.5 816.3h0.01M320.6 829.8h0.01M321.5 843.3h0.01M322.8 856.7h0.01M323.8 870.2h0.01M324.5 883.7h0.01M325.3 897.2h0.01M326.3 910.7h0.01M327.4 924.2h0.01M328.7 937.6h0.01M330 951h0.01M331.6 964.2h0.01M333.5 977.3h0.01M336 990.3h0.01M339.3 1003.1h0.01M344 1015.5h0.01M349.3 1027.5h0.01M354.7 1039.2h0.01M361.7 1050h0.01M371.6 1058.2h0.01M381.4 1066.4h0.01M392.1 1073.7h0.01M403 1080.8h0.01M415.6 1085.8h0.01M428 1091.1h0.01M440.4 1096.6h0.01M453.1 1101.3h0.01M466.1 1105.3h0.01M479.4 1107.9h0.01M492.7 1110.5h0.01M506 1112.9h0.01M519.9 1113.1h0.01M533.6 1111.4h0.01M547.2 1108.5h0.01M560.3 1106.4h0.01M569.9 1102.5h0.01M582.2 1103.9h0.01M593.3 1101.2h0.01M605.5 1105.2h0.01M614.4 1103.3h0.01M624.7 1103.6h0.01M634.4 1101.6h0.01M646 1098.5h0.01M656.1 1099.1h0.01M665.9 1099.7h0.01M677.2 1097h0.01M685.9 1097.5h0.01M695.2 1099h0.01M704.6 1097.5h0.01M712.1 1101.2h0.01M722.4 1102h0.01M730 1098.5h0.01M739.2 1100h0.01M750.1 1100.3h0.01M760.2 1099.1h0.01M771.6 1099.1h0.01M779.8 1101h0.01M789.9 1105h0.01M799.6 1103.4h0.01M810.2 1101.4h0.01M820 1103.7h0.01M829.3 1105.6h0.01M837.7 1104.2h0.01M845.8 1102.5h0.01M855.4 1104.6h0.01M863.9 1104.1h0.01M871.1 1103h0.01M880.9 1099.2h0.01M890.5 1102.1h0.01M900.8 1098h0.01M911.8 1094.7h0.01M922.6 1094h0.01M929.9 1086h0.01M940.5 1081.1h0.01M950.1 1084.8h0.01M960.5 1082.4h0.01M971.1 1085.8h0.01M982.1 1081.5h0.01M992.3 1085.9h0.01M1003.9 1084.6h0.01M1015.8 1084.8h0.01M1026.6 1081.5h0.01M1037.5 1086.2h0.01M1047.1 1082.6h0.01M1058.6 1082.7h0.01M1067.8 1081.9h0.01M1079.8 1085.5h0.01M1090.8 1080.7h0.01M1100.4 1080.8h0.01M1111.2 1080.1h0.01M1121.4 1080.8h0.01M1132.3 1079.4h0.01M1142.3 1079.7h0.01M1153.2 1076.6h0.01M1164.8 1077.6h0.01M1175.6 1073h0.01M1186.9 1073h0.01M1198.5 1074h0.01M1209.2 1076.1h0.01M1219.4 1072.6h0.01M1230 1072.6h0.01M1241.8 1074.6h0.01M1253.2 1072h0.01M1264.4 1071.5h0.01M1272.8 1070.1h0.01M1283.3 1070.6h0.01M1293.5 1065.2h0.01M1303.9 1070.1h0.01M1313.8 1068.3h0.01M1324.2 1068.5h0.01M1334.8 1065.1h0.01M1346.5 1066.1h0.01M1357.3 1065.4h0.01M1368.3 1065.8h0.01M1378.2 1063.8h0.01M1387.9 1061.3h0.01M1398 1059.1h0.01M1407.5 1058.7h0.01M1418.3 1060.5h0.01M1428.1 1057.2h0.01M1438 1060h0.01M1449.5 1059.4h0.01M1459.5 1055.1h0.01M1469.6 1056.3h0.01M1479.7 1055.2h0.01M1489.2 1055h0.01M1498.1 1058.2h0.01M1508.3 1052.2h0.01M1518.8 1055.6h0.01M1528.8 1053.1h0.01M1538 1052.3h0.01M1548.2 1049.8h0.01M1558.7 1048.5h0.01M1567.8 1048.6h0.01M1576.7 1044.2h0.01M1586 1047.5h0.01M1597.9 1045.1h0.01M1608.7 1047h0.01M1619.5 1045.2h0.01M1629.3 1045.8L1629.3 1045.8L1629.3 1045.8M1638.9 1044.7h0.01M1648.3 1043.4h0.01M1658.8 1042.7h0.01M1669.4 1039h0.01M1681.2 1040.8h0.01M1692 1039h0.01M1703.1 1039.3h0.01M1713 1038.3h0.01M1722.9 1033.1h0.01M1732.7 1036.6h0.01M1742.8 1033.8h0.01M1751.9 1032.3h0.01M1762.4 1028.3h0.01M1773.6 1028.3h0.01M1784.3 1030.2h0.01M1794.7 1030.1h0.01M1804.5 1027.5h0.01M1816.1 1025.6h0.01M1825.3 1023h0.01M1835.5 1024.1h0.01M1846.3 1020.5h0.01M1857.4 1021.8h0.01M1867.6 1025.5h0.01M1879.6 1026h0.01M1890.4 1024.4h0.01M1899.6 1024.3h0.01M1910.8 1020.2h0.01M1921.1 1017.7h0.01M1930.1 1022.5h0.01M1939.2 1023.5h0.01M1948.9 1021.3h0.01M1958.1 1017.6h0.01M1967.7 1014.1h0.01M1978 1016.4h0.01M1987.4 1020.4h0.01M1997.9 1019.2h0.01M2009.2 1020.5h0.01M2020.4 1019.6h0.01M2029.9 1014.1h0.01M2039.4 1017.9h0.01M2049.8 1017.2h0.01M2059.8 1018.2h0.01M2069.7 1018h0.01M2080.1 1017h0.01M2089.8 1015.3h0.01M2100.3 1019.2h0.01M2111.2 1016.5h0.01M2120.2 1018.5h0.01M2129.1 1015.1h0.01M2139.7 1014.8h0.01M2149.4 1018.5h0.01M2159.1 1015.7h0.01M2168.6 1015.1h0.01M2178.1 1014.1h0.01M2189.2 1010.2h0.01M2198.5 1010.7h0.01M2208.5 1012.6h0.01M2218.6 1009.9h0.01M2227.7 1012.1h0.01M2237.5 1011.3h0.01M2247.7 1014.7h0.01M2257.3 1009h0.01M2267.1 1014.5h0.01M2279 1016.2h0.01" stroke="#00B050" stroke-width="7.8"/>
<path class="s" d="M318.8 617.3L318.8 617.7L318.9 620.1L319.1 622.6L319.2 625.1L319.3 627.4L319.4 629.8L319.6 632.6L319.7 635.1L319.8 637.3M321.3 664.2L321.3 665.1L321.5 667.4L321.6 669.9L321.8 672.4L321.9 675L322.1 677.4L322.2 679.8L322.4 682.3L322.5 684.2M324.2 711.1L324.3 712.7L324.5 715L324.7 717.4L324.8 719.9L325 722.6L325.2 725.1L325.4 727.3L325.6 729.8L325.7 731.1M327.7 758L327.8 760.1L328 762.6L328.2 765.1L328.4 767.4L328.6 769.8L328.8 772.6L329 775.1L329.2 777.3L329.2 777.9M331 804.9L331.2 807.3L331.3 809.8L331.5 812.4L331.7 814.8L331.8 817.5L332 820L332.2 822.6L332.4 824.8M335.2 851.9L335.3 852.4L335.7 854.8L336.2 857.1L336.6 859.6L337.2 862.2L337.8 864.9L338.4 867.2L338.9 868.9M350.2 891.4L350.5 892L351.8 894.1L353.1 896.1L354.4 898L355.8 900.1L357.1 902.3L358.5 904.5L359.8 906.6L360.9 908.3M378.7 932L378.9 932.1L381 933.2L383.2 934.4L385.6 935.6L387.9 936.8L390.4 937.7L392.8 938.5L395.2 939.5L396.6 940.1M421.1 950.7L422.8 951.3L425.2 952.3L427.5 953.2L429.9 954.1L432.3 954.8L434.7 955.7L437.1 956.6L439.4 957.4L439.9 957.5M466.4 962.9L468.9 963L471.4 963.5L473.8 964.1L476.3 964.4L478.8 964.6L481.3 964.9L483.8 965.1L486.2 965.5M513.3 966.8L513.8 966.9L516.3 966.8L518.8 966.9L521.3 967.3L523.8 967.6L526.3 967.8L528.8 967.8L531.3 967.8L532.6 967.9M559.2 969L561.3 969L563.8 969.2L566.3 968.9L568.8 968.9L571.3 969L573.8 968.9L576.3 968.9L578.8 968.9L579.1 968.9M606 969.7L606.4 969.7L608.9 969.6L611.3 969.3L613.7 968.6L616.1 967.8L618.5 966.6L620.8 965.7L623.2 965.1L624.6 964.9M651.1 965.3L653.2 965.5L655.7 965.3L658.2 965L660.7 965L663.2 965L665.7 964.8L668.2 964.8L670.7 964.6L670.9 964.6M697.7 964.5L698.3 964.6L700.8 964.4L703.3 964.4L705.8 964.5L708.3 964.2L710.8 964.3L713.3 964.4L715.8 964L717.5 963.9M744.3 963.5L745.8 963.5L748.3 963.5L750.8 963.3L753.4 963.4L755.9 963.4L758.4 963.3L760.9 963.2L763.4 963.2L764.2 963.3M791.1 963L793.4 963L795.9 963.1L798.4 963.2L800.9 963L803.4 962.9L805.9 962.9L808.4 963L811 963L811 963M837.9 962.3L838.5 962.4L841 962.2L843.5 962.1L846 962L848.5 961.9L851 961.9L853.5 962L856 962.1L857.9 962.2M885.1 962.1L886.1 962.1L888.6 962L891.1 962L893.6 961.9L896.1 961.9L898.6 962.2L901.1 962.3L903.6 962.2L905.1 962.1M932.1 962.5L933.7 962.5L936.2 962.6L938.7 962.7L941.2 962.6L943.7 962.7L946.2 962.7L948.7 962.7L951.2 962.8L952.1 962.8M979.2 962.4L981.2 962.3L983.8 962.5L986.3 962.5L988.8 962.2L991.3 962.2L993.8 962.4L996.3 962.2L998.8 962.1L999.1 962.1M1026 961.9L1026.3 961.9L1028.8 962L1031.3 962.1L1033.8 962L1036.3 961.8L1038.8 961.9L1041.4 961.7L1043.9 961.7L1046 961.9M1073.3 961.6L1073.9 961.5L1076.4 961.3L1078.9 961.7L1081.4 961.8L1083.9 961.6L1086.4 961.5L1088.9 961.4L1091.4 961.5L1093.2 961.4M1120.5 961.3L1121.5 961.3L1124 961.4L1126.5 961.5L1129 961.5L1131.5 961.4L1134 961.3L1136.5 961.1L1139 961L1139.9 961.1M1166.5 961L1166.8 961L1170 961L1172.7 960.7L1173.5 960.3L1173.7 959.6L1173.8 958.4L1173.9 956.5L1173.9 953.9L1174 950.7L1174.1 947.6L1174.1 947.5M1174.4 918.1L1174.4 916.5L1174.5 915.6L1174.5 915.4L1174.6 916L1174.6 917.8L1174.7 920.1L1174.7 923L1174.8 926.6L1174.8 930.2L1174.9 932.7M1197.1 948.6L1198 948.5L1200.5 948.7L1203 949L1205.5 949.1L1208 949.1L1210.5 949L1213 949.4L1215.5 949.6L1216.5 949.6M1243 951.4L1243 951.4L1245.5 951.7L1248 951.9L1250.5 951.9L1253 951.9L1255.5 952.1L1258 952.3L1260.5 952.2L1262.9 952.2M1289.9 953.2L1290.6 953.3L1293.1 953.5L1295.6 953.4L1298.1 953.5L1300.6 953.5L1303.1 953.8L1305.6 953.8L1308.1 953.8L1309.3 953.9M1335.9 954.7L1338.1 954.9L1340.6 954.9L1343.1 955L1345.7 955.1L1348.2 955L1350.7 955.1L1353.2 955.3L1355.7 955.4L1355.7 955.4M1382.6 955.9L1383.2 955.9L1385.7 955.6L1388.2 955.7L1390.7 955.9L1393.2 955.8L1395.7 955.6L1398.2 955.6L1400.7 955.8L1402 955.9M1428.6 955.6L1430.8 955.6L1433.3 955.8L1435.8 955.9L1438.3 955.9L1440.8 955.9L1443.3 955.8L1445.8 955.8L1448 955.9M1474.5 955.7L1475.9 955.7L1478.4 955.9L1480.9 955.9L1483.4 955.7L1485.9 955.7L1488.4 955.7L1490.9 955.7L1493.4 955.9L1494.2 955.9M1521 956.2L1523.5 956.3L1526 956.3L1528.5 956.1L1531 956.2L1533.5 956.2L1536 956.2L1538.5 956.2L1540.6 956.3M1567.3 957.6L1568.5 957.5L1571 957.7L1573.5 957.9L1576 958L1578.5 958L1581 958.1L1583.5 958.3L1586 958.1L1587.2 958M1614.1 958.9L1616.1 958.8L1618.6 958.9L1621.1 959.3L1623.6 959.2L1626.1 959.2L1628.6 959.2L1631.1 959.1L1633.6 959.2L1634 959.2M1660.9 959.8L1661.2 959.8L1663.7 959.8L1666.2 959.9L1668.7 959.9L1671.2 959.9L1673.7 959.9L1676.2 959.9L1678.7 960L1680.8 960M1707.7 960.7L1708.7 960.8L1711.2 960.8L1713.7 960.9L1716.2 960.9L1718.8 961L1721.3 961L1723.8 961L1726.3 960.9L1726.6 960.9M1752.9 961.4L1753.8 961.3L1756.3 961.5L1758.8 961.6L1761.3 961.5L1763.8 961.6L1766.3 961.5L1768.8 961.6L1771.3 961.9L1772.9 961.8M1800.2 962.1L1801.4 962.1L1803.9 962.2L1806.4 962.1L1808.9 962.1L1811.4 962.3L1813.9 962.4L1816.4 962.2L1818.9 962.1L1820.2 962.2M1847.3 962.9L1849 962.8L1851.5 962.7L1854 962.8L1856.5 962.8L1859 963L1861.5 962.9L1864 963L1866.5 963.3L1867.1 963.3M1893.9 963.6L1894 963.6L1896.6 963.5L1899.1 963.5L1901.6 963.6L1904.1 963.6L1906.6 963.9L1909.1 964L1911.6 964.1L1913.8 964.1M1940.7 965.1L1941.6 965.2L1944.1 965.3L1946.6 965.5L1949.1 965.6L1951.6 965.7L1954.1 965.9L1956.6 965.8L1959.1 965.8L1960.6 965.9M1987.5 967.7L1989.1 967.9L1991.6 968L1994.1 968.1L1996.6 968.3L1999.1 968.4L2001.6 968.6L2004.1 968.6L2006.6 968.5L2006.9 968.6M2033.5 969.8L2034.1 969.9L2036.7 970.1L2039.2 970.1L2041.7 970.2L2044.2 970.2L2046.7 970.4L2049.2 970.6L2051.7 970.8L2053.4 970.7M2080.3 971.1L2081.7 971.2L2084.2 971.5L2086.7 971.5L2089.2 971.3L2091.7 971.5L2094.2 971.7L2096.7 971.7L2099.2 971.9L2100.2 971.8M2127.1 972.6L2129.3 972.6L2131.8 972.6L2134.3 972.9L2136.8 973.1L2139.3 973.1L2141.8 973.2L2144.3 973.3L2146.8 973.4L2147 973.3M2173.9 973.9L2174.3 973.9L2176.9 973.8L2179.4 973.8L2181.9 974.1L2184.4 974.1L2186.9 974.3L2189.4 974.5L2191.9 974.3L2193.9 974.4M2220.9 975L2221.9 975.1L2224.4 975.4L2226.9 975.6L2229.4 975.3L2231.9 975.3L2234.4 975.6L2236.9 975.5L2239.4 975.7L2240.8 975.8M2267.9 976.4L2269.5 976.4L2272 976.5L2274.5 976.4L2277 976.6L2279.5 976.8" stroke="#000" stroke-width="7.8"/>
<path class="s" d="M318.3 69.4L318.3 69.9L318.3 72.4L318.3 74.8L318.3 77.3L318.3 79.9L318.3 82.7L318.3 85.2L318.3 87.5L318.3 89.4M318.3 116.4L318.3 117.4L318.3 119.9L318.3 122.7L318.3 125.2L318.4 127.5L318.4 130L318.4 132.6L318.4 135.3L318.4 136.4M318.4 164.2L318.4 165.3L318.4 167.6L318.4 170L318.4 172.6L318.4 175.3L318.4 177.6L318.4 180.2L318.4 182.6L318.4 184.2M318.5 211.9L318.5 212.9L318.5 215.3L318.6 217.8L318.6 220.5L318.6 223L318.6 225.3L318.6 227.8L318.6 230.1L318.6 231.9M318.8 259.7L318.8 260.3L318.8 262.8L318.8 265.3L318.8 267.8L318.8 270.5L318.8 273L318.8 275.3L318.9 277.9L318.9 279.7M319.1 307.5L319.1 307.9L319.1 310.5L319.1 313L319.1 315.5L319.2 318L319.2 320.4L319.2 322.7L319.3 325.5L319.3 327.5M319.7 355.2L319.7 355.3L319.8 357.8L319.8 360.5L319.8 363L319.9 365.6L319.9 368.1L320 370.6L320 372.9L320.1 375.2M320.5 403L320.6 403.2L320.6 405.6L320.6 408.1L320.7 410.7L320.7 413.1L320.8 415.5L320.8 417.9L320.9 420.5L320.9 423M321.4 450.7L321.5 453L321.5 455.6L321.6 458.3L321.6 460.9L321.7 463.4L321.7 465.9L321.8 468.2L321.8 470.5L321.9 470.7M322.5 498.5L322.5 500.6L322.6 503.2L322.6 505.7L322.7 508.2L322.8 510.8L322.8 513.3L322.9 515.7L322.9 518.4L322.9 518.5M323.7 546.2L323.7 548.2L323.8 550.8L323.9 553.1L323.9 555.7L324 558.4L324.1 560.7L324.1 563.4L324.2 566.1L324.2 566.2M325.1 594L325.2 596L325.2 598.5L325.3 601L325.4 603.4L325.5 605.9L325.6 608.4L325.7 610.8L325.8 613.3L325.8 614M326.8 641.7L326.9 643.5L327 646.1L327.1 648.4L327.2 650.8L327.3 653.2L327.4 655.9L327.5 658.5L327.6 660.9L327.7 661.7M329 689.4L329 690.9L329.2 693.3L329.3 695.7L329.4 698.3L329.5 700.8L329.7 703.4L329.8 706L330 708.6L330 709.4M331.9 737.1L332 738.3L332.2 741L332.4 743.5L332.5 746.1L332.7 748.4L332.9 750.9L333.1 753.5L333.2 755.7L333.3 757M335 784.7L335.1 786.1L335.3 788.5L335.4 790.8L335.6 793.3L335.7 795.8L335.9 798.5L336.1 800.9L336.2 803.5L336.3 804.7M338.4 832.4L338.6 833.5L338.9 835.8L339.2 838.3L339.6 841L339.9 843.3L340.3 845.6L340.7 848.3L341 850.6L341.3 852.2M345.2 879.1L345.5 880.4L346 883L346.5 885.3L347 887.6L347.6 890.3L348.1 892.8L348.6 895.1L349.1 897.5L349.3 898.6M354 925.1L354.5 927.1L355.1 929.4L355.7 931.9L356.3 934.2L356.9 936.7L357.6 939.2L358.2 941.6L358.9 944L359 944.5M366.6 971.8L367 973L367.7 975.4L368.5 977.7L369.3 980.3L370.1 982.7L370.9 985L371.7 987.5L372.4 989.9L372.8 990.9M382.3 1017.7L382.5 1018.1L383.4 1020.5L384.4 1022.8L385.4 1025.2L386.4 1027.3L387.4 1029.6L388.5 1031.9L389.6 1034.1L390.4 1035.8M404 1059L404.7 1060.2L406 1062.1L407.3 1064.1L408.6 1066.3L409.9 1068.6L411.3 1070.6L412.6 1072.6M428.6 1090.9L429.2 1091.6L431 1093.3L432.8 1095.1L434.5 1096.8L436.3 1098.6L438.1 1100.2L440 1102L441.8 1103.6L443 1104.7M467.4 1124.3L469.1 1125.5L471.1 1127L473.2 1128.7L475.2 1130.2L477.2 1131.4L479.3 1132.9L481.4 1134.3L483.5 1135.8L483.7 1135.9M508.7 1147.6L510.6 1148.4L512.9 1149.8L515.2 1150.8L517.5 1151.8L519.7 1153L522 1154L524.3 1154.8L526.6 1155.8L526.6 1155.8M552.2 1163.9L552.8 1164.1L555.2 1165L557.5 1165.9L559.8 1166.9L562.2 1168.1L564.5 1169L566.8 1169.6L569.2 1170.4L570.8 1171.1M597.4 1176.9L598.5 1177.1L600.8 1177.9L603.2 1178.9L605.6 1179.9L607.9 1180.6L610.3 1181.3L612.7 1182.3L615.1 1182.9L616.3 1183.2M643.4 1187.5L644.6 1187.8L647 1188.4L649.4 1189.3L651.8 1190.4L654.2 1191.1L656.6 1192L659 1192.9L661.4 1193.4L662.1 1193.5M688.7 1195.9L688.8 1195.9L691.2 1196.2L693.7 1196.8L696.2 1197.1L698.6 1197.3L701.1 1197.7L703.6 1198.2L706.1 1198.6L707.8 1198.9M734.1 1202.1L735.9 1202.3L738.4 1202.6L740.9 1203L743.3 1203.4L745.8 1203.4L748.3 1203.7L750.8 1204L753.3 1204.5L753.9 1204.6M781.3 1207.3L783.2 1207.5L785.7 1207.9L788.2 1208.3L790.7 1208.5L793.1 1208.7L795.6 1208.7L798.1 1208.9L800.6 1209.4L800.8 1209.4M827.4 1211.6L828.1 1211.7L830.6 1212.1L833.1 1212.1L835.6 1212.3L838.1 1212.6L840.5 1212.8L843 1212.9L845.5 1213.2L847.3 1213.3M874.2 1215.6L875.5 1215.8L878 1215.8L880.5 1216L883 1216.1L885.5 1216.1L888 1216.3L890.5 1216.7L893 1216.9L894.1 1216.9M921.3 1218.7L923 1218.8L925.5 1218.9L928 1219.3L930.5 1219.3L933 1219.6L935.5 1219.8L938 1219.7L940.5 1219.8L941.2 1219.8M968.2 1220.9L970.5 1221.2L973 1221.2L975.5 1221.2L978 1221.2L980.5 1221.7L983 1221.9L985.5 1221.9L988 1221.9L988.1 1222M1015 1223.7L1015.5 1223.8L1018 1224L1020.5 1224.1L1023 1223.9L1025.5 1224.1L1028 1224.3L1030.5 1224.3L1033 1224.5L1034.9 1224.5M1062.1 1225.3L1063 1225.3L1065.5 1225.3L1068 1225.5L1070.5 1225.7L1073 1225.8L1075.5 1226.1L1078 1225.9L1080.5 1225.8L1082.1 1225.9M1109.4 1227.5L1110.6 1227.5L1113.1 1227.5L1115.6 1227.5L1118.1 1227.4L1120.6 1227.8L1123.1 1228.1L1125.6 1228.1L1128.1 1228.1L1129.4 1228.1M1156.8 1229.3L1158.1 1229.3L1160.6 1229.3L1163.1 1229.2L1165.6 1229.3L1168.1 1229.6L1170.6 1229.7L1173.1 1229.8L1175.6 1229.9L1176.7 1229.9M1203.6 1230.5L1205.7 1230.4L1208.2 1230.5L1210.7 1230.6L1213.2 1230.9L1215.7 1230.9L1218.2 1230.8L1220.7 1230.9L1223.2 1231.1L1223.6 1231.1M1250.7 1231.6L1250.7 1231.6L1253.2 1231.6L1255.7 1231.8L1258.2 1231.8L1260.7 1231.7L1263.2 1231.8L1265.7 1231.8L1268.3 1232L1270.7 1232.1M1297.9 1233.1L1298.3 1233.1L1300.8 1233.2L1303.3 1233.1L1305.8 1233.1L1308.3 1233.2L1310.8 1233.3L1313.3 1233.1L1315.8 1233.3L1317.8 1233.4M1344.7 1233.8L1345.9 1233.9L1348.4 1233.9L1350.9 1233.8L1353.4 1234L1355.9 1234.2L1358.4 1234.1L1360.9 1234L1363.4 1234L1364.7 1234.1M1391.7 1234.7L1393.4 1234.6L1395.9 1234.8L1398.4 1234.9L1400.9 1234.8L1403.4 1234.9L1406 1234.9L1408.5 1235L1411 1235.1L1411.4 1235.1M1438.1 1235.6L1438.5 1235.6L1441 1235.7L1443.5 1235.7L1446 1235.6L1448.5 1235.7L1451 1235.8L1453.5 1235.9L1456 1235.9L1458 1236M1484.9 1236.9L1486 1236.9L1488.6 1236.9L1491.1 1236.9L1493.6 1237L1496.1 1237.2L1498.6 1237.1L1501.1 1236.9L1503.6 1236.8L1504.9 1236.8M1532.4 1237.1L1533.6 1237L1536.1 1237.1L1538.6 1236.9L1541.1 1237L1543.6 1237.1L1546.1 1236.8L1548.7 1236.9L1551.2 1237.1L1552.3 1237.1M1579.2 1237.3L1581.2 1237.3L1583.7 1237.4L1586.2 1237.3L1588.7 1237.4L1591.2 1237.5L1593.7 1237.5L1596.2 1237.4L1598.7 1237.4L1599.1 1237.4M1626 1237.8L1626.3 1237.8L1628.8 1237.6L1631.3 1237.9L1633.8 1237.8L1636.3 1237.7L1638.8 1237.7L1641.3 1237.9L1643.8 1238L1645.9 1238M1673.3 1238.1L1673.9 1238.1L1676.4 1237.9L1678.9 1237.8L1681.4 1238L1683.9 1237.9L1686.4 1237.7L1688.9 1237.8L1691.4 1238L1693.2 1238M1720.2 1238.4L1721.4 1238.4L1723.9 1238.1L1726.4 1238L1728.9 1238L1731.4 1238L1734 1238.1L1736.5 1238.3L1739 1238.1L1740 1238.1M1766.9 1238.3L1769 1238.3L1771.5 1238.3L1774 1238.1L1776.5 1238.2L1779 1238.2L1781.5 1238L1784 1238.1L1786.5 1238.1L1786.9 1238.1M1814.1 1236.8L1816.6 1236.6L1819.1 1236.5L1821.6 1236.4L1824.1 1236.3L1826.6 1236L1829.1 1236L1831.6 1236.2L1834 1235.9M1860.9 1235.1L1861.6 1235.1L1864.1 1235.2L1866.6 1235L1869.1 1234.8L1871.6 1235L1874.1 1234.8L1876.6 1234.9L1879.1 1234.9L1880.9 1234.7M1907.9 1234.1L1909.2 1234.1L1911.7 1234.2L1914.2 1234.3L1916.7 1233.9L1919.2 1233.7L1921.7 1233.7L1924.2 1233.6L1926.7 1233.3L1927.6 1233.3M1954.3 1231.4L1956.7 1231.4L1959.2 1231.4L1961.7 1231.2L1964.2 1231L1966.7 1230.9L1969.2 1231.1L1971.7 1230.9L1974.2 1230.8M2001.1 1230.3L2001.7 1230.3L2004.2 1230.1L2006.7 1230.3L2009.2 1230.2L2011.7 1230.2L2014.3 1230.2L2016.8 1230L2019.3 1229.9L2021 1230M2047.9 1229.7L2049.3 1229.6L2051.8 1229.5L2054.3 1229.4L2056.8 1229.5L2059.3 1229.5L2061.8 1229.3L2064.3 1229.1L2066.8 1229.1L2067.9 1229.1M2095.3 1228.2L2096.9 1228.1L2099.4 1228.3L2101.9 1228.1L2104.4 1227.9L2106.9 1227.9L2109.4 1227.8L2111.9 1227.7L2114.4 1227.5L2115.2 1227.5M2142.1 1226.2L2144.4 1225.9L2146.9 1225.7L2149.4 1225.8L2151.9 1225.7L2154.4 1225.7L2156.9 1225.5L2159.4 1225.1L2161.9 1225.1L2162 1225.1M2189.2 1224L2189.4 1224L2191.9 1224L2194.4 1224L2196.9 1223.8L2199.4 1223.4L2201.9 1223.3L2204.4 1223.4L2206.9 1223.4L2209.1 1223.1M2236 1222L2237 1221.9L2239.5 1221.7L2242 1221.8L2244.5 1221.9L2247 1221.6L2249.5 1221.5L2252 1221.6L2254.5 1221.4L2256 1221.4" stroke="#00B050" stroke-width="7.8"/>
<path class="s" d="M318 551.7L318.1 554.6L318.1 556M319.1 583.1L319.1 584.9L319.2 586.9L319.2 589.1L319.3 591.7L319.4 594.1L319.4 596.8L319.5 599.7L319.5 602.1L319.6 604.3L319.6 606.9L319.7 609.5L319.7 612L319.8 614.5L319.8 617.2L319.9 619.9L319.9 622.3L319.9 624.8L320 627L320 629.3L320 630M320.4 657.1L320.4 657.3L320.5 659.6L320.5 662L320.6 664.4L320.6 666.9L320.7 669.5L320.7 672.2L320.8 674.8L320.8 676.9L320.9 679.5L320.9 682.4L321 685L321 687.3L321 689.8L321.1 692.5L321.1 694.5L321.2 696.9L321.2 699.6L321.3 702L321.3 703.9M322 730.9L322.1 731.8L322.2 734.6L322.2 737.1L322.3 739.4L322.4 742.2L322.5 744.9L322.7 747L322.8 749.3L322.9 751.8L323 754.3L323.2 757.3L323.3 760L323.4 762L323.6 764.7L323.7 767.1L323.8 769.7L324 772.1L324.1 774.5L324.2 777.1L324.3 777.2M325.6 804.1L325.6 805.1L325.7 807.3L325.8 809.5L325.9 812.2L326 814.8L326 817.1L326.1 819.3L326.2 821.9L326.3 824.5L326.4 827L326.4 829.3L326.5 831.8L326.6 834.8L326.7 837.2L326.8 839.7L326.9 842.4L327 844.9L327.2 847.4L327.3 849.6L327.4 851M330.4 880.5L330.6 882L330.9 884.3L331.2 887L331.6 889.5L331.9 891.8L332.2 894.3L332.6 896.6L333 899L333.3 901.9L333.7 904.7L334.1 906.7L334.4 909.4L334.8 912.1L335.2 914.2L335.6 916.4L336 919.2L336.4 921.9L336.8 924.5L337.2 926.7L337.3 926.9M342.8 954.4L343.1 955.9L343.7 958.5L344.4 961L345.1 963.2L345.7 965.3L346.5 968L347.2 970.4L347.9 972.9L348.7 975.1L349.5 977.6L350.3 980.4L351.1 982.8L352 985.2L352.8 987.4L353.7 989.6L354.6 992L355.5 994.5L356.4 996.4L357.3 998.7L357.4 998.8M370 1022.8L370.2 1023.2L371.5 1025.2L372.9 1027L374.2 1029L375.6 1031.4L377.1 1033.9L378.5 1036L380 1037.6L381.5 1039.8L383 1042L384.6 1043.7L386.1 1045.7L387.7 1047.9L389.3 1049.6L390.9 1051.2L392.6 1053.4L394.2 1055.3L395.9 1057.2L397 1058.6M417.4 1075.4L418.9 1076.3L421 1077.5L423.1 1078.6L425.2 1079.7L427.4 1081L429.5 1082.5L431.7 1084L433.9 1085L436.1 1086.4L438.3 1088L440.5 1089.2L442.7 1090L444.9 1091.4L447.2 1092.3L449.4 1093.4L451.6 1094.8L453.8 1095.7L456.1 1097L458.2 1098.2M484.3 1111.1L485.2 1111.6L487.5 1112.9L489.8 1113.6L492.1 1114.3L494.4 1115.6L496.7 1116.5L499 1117.5L501.3 1118.7L503.7 1119.4L506 1120.3L508.4 1121L510.7 1122.1L513.1 1123.2L515.4 1124.1L517.8 1124.8L520.2 1125.4L522.5 1125.8L524.9 1126.8L526.7 1127.5M552.7 1133L554.1 1133.4L556.6 1133.9L559 1134.7L561.4 1135.3L563.8 1136.4L566.3 1137L568.7 1137.4L571.1 1138.3L573.5 1138.7L576 1139.1L578.4 1139.9L580.8 1140.4L583.2 1141.2L585.7 1142L588.1 1142.2L590.6 1142.7L593 1143.1L595.5 1143.8L597.9 1144.3L598.1 1144.3M625.1 1148.1L625.2 1148.1L627.7 1148.5L630.2 1148.4L632.7 1148.7L635.1 1149.1L637.6 1149.5L640.1 1149.9L642.6 1150.4L645.1 1150.4L647.6 1150.5L650 1150.9L652.5 1151.5L655 1151.8L657.5 1151.7L660 1152.3L662.5 1152.6L664.9 1153L667.4 1153.4L669.9 1153.4L670.7 1153.5M697.3 1156.7L699.8 1157L702.2 1157.1L704.7 1157.3L707.2 1157.4L709.7 1157.7L712.2 1157.6L714.7 1157.5L717.2 1157.7L719.7 1158.3L722.2 1158.5L724.7 1158.3L727.2 1158.4L729.7 1158.5L732.2 1158.9L734.7 1159L737.2 1159.1L739.7 1159.2L742.2 1159.5L742.8 1159.4M769.4 1160.4L769.7 1160.4L772.2 1160.4L774.7 1160.7L777.2 1160.8L779.7 1160.9L782.2 1161.3L784.7 1161.7L787.2 1161.8L789.7 1161.7L792.2 1161.6L794.7 1162.1L797.2 1162.4L799.7 1162.2L802.2 1162.3L804.7 1162.5L807.2 1162.9L809.7 1162.7L812.2 1162.6L814.7 1162.8L815.7 1163M842.6 1163L844.7 1163.1L847.2 1162.8L849.7 1162.8L852.2 1163L854.7 1163.3L857.3 1162.9L859.8 1162.9L862.3 1163.4L864.8 1162.9L867.3 1162.8L869.8 1162.8L872.3 1162.9L874.8 1162.9L877.3 1162.6L879.8 1163L882.3 1163.1L884.8 1163.2L887.3 1162.8L888.9 1162.8M915.8 1162.4L917.3 1162.4L919.8 1162.3L922.3 1162.1L924.8 1161.8L927.3 1161.6L929.8 1161.5L932.3 1161.6L934.8 1161.5L937.3 1161.1L939.8 1161L942.3 1161.4L944.8 1161.4L947.3 1161.1L949.8 1160.8L952.3 1160.6L954.8 1161L957.3 1161.2L959.8 1161L962.1 1160.9M989 1160.1L989.8 1160.1L992.3 1160.2L994.8 1160.1L997.3 1160L999.9 1159.7L1002.4 1159.4L1004.9 1159.9L1007.4 1160L1009.9 1159.9L1012.4 1159.9L1014.9 1159.9L1017.4 1159.5L1019.9 1159.4L1022.4 1159.2L1024.9 1159.1L1027.4 1159.3L1029.9 1158.9L1032.4 1158.7L1034.9 1158.6L1035.3 1158.6M1062.2 1156.2L1062.3 1156.2L1064.8 1156L1067.2 1155.3L1069.7 1154.8L1072.2 1154.5L1074.7 1154.4L1077.2 1154.5L1079.7 1154L1082.1 1153.5L1084.6 1153.6L1087.1 1153.7L1089.6 1153.5L1092.1 1152.8L1094.6 1152.6L1097.1 1152.5L1099.6 1152.4L1102.1 1152.1L1104.6 1152.1L1107.1 1152L1108.6 1151.7M1135.2 1146.3L1136.5 1146.2L1139 1145.5L1141.5 1144.9L1144 1144.6L1146.5 1144.5L1149 1144.6L1151.4 1144.1L1153.9 1143.8L1156.4 1143.4L1158.9 1143.2L1161.4 1143.2L1163.9 1142.6L1166.4 1142.2L1168.9 1141.9L1171.4 1141.5L1173.8 1141.2L1176.3 1140.7L1178.8 1140.5L1181.2 1140.5M1207.6 1135L1208.2 1135L1210.7 1134.2L1213.1 1133.6L1215.6 1133.3L1218 1132.7L1220.5 1132.3L1223 1132.1L1225.4 1131.7L1227.9 1130.9L1230.3 1130.6L1232.8 1130.1L1235.3 1129.4L1237.7 1128.8L1240.2 1128.3L1242.6 1127.9L1245.1 1127.5L1247.5 1127L1250 1126.3L1252.4 1126.1L1253.5 1126M1279.8 1119.3L1281.5 1118.9L1283.9 1117.9L1286.3 1117L1288.6 1116.4L1291 1115.8L1293.4 1114.8L1295.8 1113.7L1298.1 1112.9L1300.5 1112.5L1302.9 1111.3L1305.2 1110.9L1307.6 1109.8L1309.9 1108.7L1312.3 1108.4L1314.7 1107.1L1317 1105.9L1319.4 1105.8L1321.8 1105.1L1322.8 1104.9M1347.5 1096L1347.8 1095.9L1350.1 1094.6L1352.4 1094.3L1354.7 1093.1L1357.1 1091.6L1359.4 1091.4L1361.7 1090.5L1364 1089.8L1366.3 1089.2L1368.6 1087.7L1370.9 1086.2L1373.2 1085.8L1375.5 1085L1377.8 1083.2L1380 1082.3L1382.3 1081.8L1384.6 1080.5L1386.9 1079L1389.2 1077.8L1389.9 1077.7M1414.3 1066.9L1416.5 1065.8L1418.9 1064.1L1421.4 1064L1423.8 1063.1L1426.3 1061.5L1428.8 1060.6L1431.3 1060.4L1433.8 1060L1436.2 1058.6L1438.6 1058.2L1441 1057.6L1443.3 1056L1445.6 1054.7L1447.8 1054.4L1449.9 1053.7L1451.9 1051.7L1452.2 1051.6M1469.2 1033.1L1470 1032.1L1471.6 1030L1473.3 1027.7L1475 1026.4L1476.8 1024.8L1478.6 1022.7L1480.6 1020.6L1482.7 1019.8L1484.9 1018.5L1487.2 1016.8L1489.6 1016.8L1491.9 1016.8L1494.5 1016.3L1497.3 1016.3L1499.8 1016.5L1502 1016.2L1503.6 1015.5L1504.4 1014.8M1516.7 993.1L1518.3 991.2L1520.2 990.2L1522.2 989.2L1524.3 987.1L1526.5 985.5L1528.7 984.9L1530.9 983.3L1533.2 982.2L1535.5 980.9L1537.8 978.9L1540.1 977.5L1542.3 977L1544.6 975.6L1546.7 974.1L1548.6 972.6M1566.5 956.4L1566.8 956.1L1568.8 954L1570.8 953.1L1572.8 951.1L1574.9 949.4L1577 948.4L1579.1 947.1L1581.3 946.2L1583.4 945.4L1585.6 943.3L1587.8 941.9L1590 940.5L1592.1 939.7L1594.3 937.9L1596.5 936.1L1598.6 935L1600.7 934.1L1602.8 933.2L1604.8 931.5L1605.3 931.1M1630.7 906.8L1632 905.2L1634 904.4L1636.1 902.8L1638.2 901.2L1640.3 900.3L1642.4 899L1644.6 897.6L1646.8 896.8L1649 894.8L1651.3 893.8L1653.6 892.5L1655.8 891.9L1658.1 890.4L1660.4 889.3L1662.7 888L1665 887.3L1667.3 886.2L1668.2 885.9M1692.7 878.4L1693.6 878.2L1696.1 877.8L1698.6 876.9L1701.2 876.5L1703.7 876.4L1706.3 874.6L1708.8 873.4L1711.4 873.7L1713.9 873L1716.4 871.5L1718.8 871.6L1721.2 870.5L1723.5 869.5L1725.8 868.7L1728.1 867.4L1730.2 867L1732.3 866.4L1734.2 865.2L1735.1 864.4M1752.9 845.4L1754.6 844.9L1756.8 843.3L1759 842.2L1761.3 841.1L1763.6 840.7L1766 840.7L1768.5 839.1L1770.9 837.8L1773.4 837.6L1776 836.7L1778.5 835.6L1781 835.1L1783.6 834.3L1786.1 834.1L1788.6 833.7L1791 833.3L1793.5 832.3L1794 832M1818.6 824.4L1819.7 824L1822.1 823.2L1824.5 822.3L1826.9 821.2L1829.3 820.8L1831.7 820.1L1834.2 818.8L1836.5 818.4L1838.9 817.4L1841.3 817.3L1843.7 817L1846.1 816L1848.4 814.6L1850.8 813.8L1853.1 813.2L1855.4 812.7L1857.8 811.6L1858.1 811.4M1880.6 800.5L1882.6 799.6L1885 798.9L1887.4 798.2L1889.7 796.6L1892 795.6L1894.2 794.4L1896.4 793.1L1898.5 792.1L1900.7 791.4L1902.8 789.6L1904.9 788.2L1907 787L1909.1 785.5L1911.2 784.4L1913.3 783.6L1915.3 782.3L1917.4 780.5L1919.5 779.1L1919.9 778.9M1941.5 764L1942.7 763.5L1945 763.5L1947.3 762.2L1949.6 760.6L1952 760.3L1954.4 759.7L1956.8 759.4L1959.2 758.6L1961.6 757.8L1964.1 756.9L1966.5 756.1L1968.9 755.1L1971.4 754.5L1973.8 753.6L1976.2 752.7L1978.5 752.7L1980.9 752.4L1983.2 751.6L1984.3 751M2007.1 737.8L2007.6 737.6L2009.9 736.6L2012.2 736.3L2014.5 735.4L2016.9 734.1L2019.2 733.6L2021.6 733L2024 731.7L2026.3 729.8L2028.7 728.6L2031 728.6L2033.3 727.7L2035.6 726.2L2037.9 725.1L2040.1 724.5L2042.3 723.2L2044.5 722.5L2045.6 721.9M2065.1 705.5L2065.9 704.8L2067.8 703.6L2069.6 702L2071.6 699.6L2073.6 697.9L2075.6 697.4L2077.9 696.7L2080.3 695.1L2082.7 694.6L2085.2 694L2087.6 693.3L2090.2 694.5L2092.7 695.2L2093.2 695.5M2109.5 707.3L2111 707.4L2113.2 706.4L2115.5 705.4L2117.9 705.6L2120.3 705.4L2122.7 703.4L2125.2 702.5L2127.7 701.5L2130.2 700.7L2132.7 699.6L2135.2 697.6L2137.7 696L2140.1 695.2L2142.5 694.6L2144.8 692.9L2146.1 692.2M2166.2 678L2167.3 677.4L2169.7 676.6L2172.2 676.3L2174.8 676.1L2177.3 675.2L2179.7 674.5L2182.1 673.1L2184.2 672.4L2186.1 670.9L2187.8 668.6L2189.6 667.3L2191.7 667.7L2194.1 668.5L2196.6 669.2M2218.5 672.7L2220.9 672.9L2223.3 672.9L2225.7 672L2228.2 670.9L2230.6 670.5L2233 670.2L2235.4 669.9L2237.8 669.4L2240.3 668.8L2242.7 667.3L2245.1 666.7L2247.5 665.9L2250 664.3L2252.4 663.5L2254.8 663.4L2257.3 663.1L2259.7 662.1L2262.2 661.4L2263.3 661.4" stroke="#000" stroke-width="8.6"/>
<path class="s" d="M327.7 59.6L327.7 62.5L327.7 65.2L327.7 67.3L327.8 69.8L327.8 72.2L327.8 74.7L327.8 77.1L327.9 79.6L327.9 82.5L327.9 82.5M328.2 109.2L328.3 110L328.3 112.4L328.3 114.8L328.4 117.3L328.4 120L328.5 122.5L328.5 125.1L328.5 127.4L328.6 130.3L328.6 132.7L328.7 135L328.7 137.9L328.8 140.6L328.8 143.1L328.9 145.3L329 147.9L329 150.3L329.1 152.7L329.2 155.3L329.2 156.5M330 183.2L330.1 185.4L330.1 187.8L330.2 189.9L330.3 192.6L330.3 195.2L330.4 197.3L330.5 199.9L330.5 202.8L330.6 205.3L330.7 207.5L330.7 210L330.8 212.5L330.8 214.9L330.9 217.4L330.9 219.8L331 222.5L331 225.3L331.1 227.5L331.1 230L331.2 230.5M331.7 258.1L331.8 260.5L331.8 263.1L331.9 265.2L331.9 267.3L332 269.9L332.1 272.9L332.1 275.3L332.2 277.7L332.3 280.6L332.4 283.3L332.4 285.3L332.5 287.5L332.6 289.9L332.7 292.7L332.8 295.5L332.9 298L333 300.2L333.1 302.6L333.2 305.2L333.3 305.4M334.6 332.1L334.6 332.8L334.7 335.2L334.9 337.9L335 340.6L335.1 343.2L335.3 345.5L335.4 347.7L335.5 350.1L335.6 353L335.8 355.7L335.9 357.6L336 360.4L336.1 363.1L336.2 365.5L336.4 367.9L336.5 370.2L336.6 372.9L336.7 375.6L336.8 377.9L336.9 379.3M338.2 406.2L338.3 407.8L338.5 410.4L338.6 412.6L338.7 415L338.9 417.5L339 419.9L339.1 422.5L339.3 425.1L339.4 428.1L339.6 430.3L339.7 432.9L339.9 435.4L340 437.4L340.2 440L340.3 442.8L340.5 445.1L340.6 448L340.8 450.3L340.9 453L341 453.4M342.8 480.3L342.8 480.4L342.9 483L343.1 485.5L343.3 487.9L343.5 490.3L343.7 492.6L343.9 495.2L344.1 498.1L344.3 500.7L344.5 502.9L344.7 505.4L344.9 507.9L345.1 509.9L345.4 512.2L345.6 514.9L345.9 517.7L346.1 520.2L346.4 522.3L346.6 525L346.9 527.4M349.7 554.3L349.8 554.7L350 557.7L350.3 559.9L350.5 562.4L350.7 564.9L350.9 567.3L351.2 569.9L351.4 572.8L351.6 575.3L351.8 577.5L352.1 580.2L352.3 582.9L352.5 584.9L352.8 587.6L353 590.5L353.3 592.6L353.6 594.7L353.8 597.6L354.1 600L354.3 601.3M358.3 627.8L358.6 629.6L358.9 632.5L359.3 634.7L359.6 637.2L359.9 639.7L360.3 641.7L360.6 644L360.9 646.6L361.3 649.6L361.6 652.5L361.9 654.9L362.3 657L362.6 659.2L363 661.8L363.3 664.7L363.7 667.1L364.1 669.1L364.5 671.2L364.9 674.1L365 674.7M370.4 700.8L370.5 700.9L371 703.2L371.4 705.9L371.9 708.5L372.4 710.8L372.9 713L373.3 716L373.8 718.4L374.3 721L374.8 723.8L375.3 726.3L375.8 728.5L376.3 731L376.8 733.7L377.3 735.6L377.9 737.6L378.4 740.5L379 743.2L379.6 745.2L380.1 747M388.5 773L388.8 773.7L389.6 776.1L390.3 778.7L391.1 781.1L391.9 783.6L392.6 785.7L393.4 788.3L394.1 790.7L394.9 793.1L395.7 795.3L396.5 797.9L397.2 800.7L398 802.5L398.9 804.4L399.7 807.2L400.5 809.8L401.4 811.8L402.3 814L403.2 816.5L403.7 817.7M415.5 841.9L416.5 843.8L417.6 845.7L418.8 847.9L420 850.4L421.2 852.2L422.4 854.2L423.5 856.4L424.8 859.2L426 861.2L427.2 863.4L428.4 865.8L429.7 868.1L431 870L432.2 872L433.5 874.2L434.9 876.2L436.2 878.5L437.6 880.9L438.9 882.6M455.4 903.4L456.1 904.3L457.8 905.8L459.5 907.4L461.2 909.7L462.9 911.3L464.6 913.4L466.4 915.4L468.1 917.3L469.9 918.8L471.7 920.6L473.5 922.6L475.3 924.3L477.1 926L479 927.4L480.9 928.8L482.8 930.3L484.7 931.9L486.6 934L488.6 935.7L489.3 936.2M512.9 950.3L514.2 950.8L516.5 951.7L518.7 953.2L521 954.5L523.3 955.3L525.6 956.3L527.9 957.2L530.2 958.1L532.5 959.4L534.8 960.1L537.2 960.9L539.5 962.3L541.9 963.1L544.2 963.8L546.6 964.8L548.9 965.7L551.3 966L553.5 966.4M578 973.5L580.2 974L582.6 975.6L585 976.9L587.3 977.9L589.7 978.7L592.1 979.9L594.4 981.2L596.8 981.6L599.1 982.5L601.5 983.6L603.8 983.6L606.2 984L608.6 984.5L611 984.2L613.4 983.1L615.6 981.4L617.7 979.5L619.9 978.4L621.1 978.5M647.9 983L649.3 983.3L651.7 984.2L654.2 984.9L656.7 985.2L659.2 985.1L661.6 985.4L664.1 986.1L666.6 986.6L669.1 987L671.6 987.4L674.1 987.9L676.6 988L679 987.9L681.5 988.2L684 988.2L686.5 988.2L689 988.8L690.3 988.8M715.6 988.5L716.5 988.5L719 988.5L721.5 989.2L724 989.5L726.4 989.6L728.9 990L731.4 990.3L733.9 990.7L736.3 991L738.8 991.5L741.3 992.1L743.7 992.5L746.2 993.6L748.7 994.4L751.1 994.8L753.6 995.2L756 995.6L758.5 996.1L759.4 996.2M784.5 1001.1L785.4 1001.1L787.9 1001.3L790.3 1001.2L792.8 1000.9L795.3 1001L797.8 1001.5L800.4 1001.8L802.9 1001.1L805.4 1000.9L807.9 1001.4L810.4 1001.7L812.9 1001.1L815.5 1000.8L818 1001L820.5 1001L823 1001.1L825.5 1001.1L827.5 1001.2M852.6 998.2L852.9 998.1L855.4 997.6L857.9 997.4L860.3 997.4L862.8 996.9L865.3 996.5L867.8 996.3L870.3 995.9L872.8 995.6L875.3 995.3L877.8 995L880.3 994.8L882.7 994.2L885.2 994L887.7 994L890.2 994.1L892.7 993.9L895.2 993.4L896.1 993.6M921.5 994.2L922.7 994.2L925.2 994.3L927.7 994L930.2 993.7L932.7 993.9L935.2 994.2L937.7 994L940.3 993.3L942.8 993.3L945.3 993.4L947.8 993.4L950.3 993.6L952.8 993.1L955.3 992.6L957.8 992.9L960.3 992.7L962.8 992.7L965 993M990.5 992.6L992.8 992.8L995.3 992.7L997.8 992.4L1000.3 992.8L1002.8 992.8L1005.3 992.5L1007.8 992.5L1010.3 992.2L1012.8 991.5L1015.3 991.1L1017.8 991L1020.3 990.8L1022.8 990.6L1025.3 990.6L1027.8 990.7L1030.3 990.3L1032.8 990L1035.3 990.1M1061.1 988.6L1062.8 988.3L1065.3 988.2L1067.8 987.8L1070.2 987.3L1072.7 986.9L1075.2 986.8L1077.7 986.6L1080.2 986.6L1082.7 986.4L1085.2 986.3L1087.7 986.6L1090.2 986.7L1092.7 986.7L1095.2 987.2L1097.7 987.4L1100.2 987.6L1102.7 987.8L1105.2 988.1L1106.5 988.1M1132.6 988.4L1132.7 988.4L1135.2 988.4L1137.7 988L1140.2 987.6L1142.7 988L1145.2 988.2L1147.7 987.8L1150.2 987.6L1152.7 987.4L1155.2 987.1L1157.7 987.3L1160.2 987L1162.7 987.1L1165.2 987.2L1167.7 987L1170.2 986.9L1172.7 986.2L1175.2 986.1L1176.8 986.2M1202.4 985.2L1202.7 985.2L1205.2 985.1L1207.7 984.9L1210.2 984.2L1212.7 983.9L1215.2 983.6L1217.7 983.2L1220.2 983.4L1222.7 983.4L1225.2 983.4L1227.7 983L1230.2 982.9L1232.7 982.9L1235.2 982.2L1237.7 981.5L1240.2 981.7L1242.7 981.8L1245.2 981.7L1246.5 981.7M1272.1 981.8L1272.7 981.7L1275.2 981.2L1277.7 981.5L1280.2 981.7L1282.7 981.2L1285.1 981L1287.6 980.4L1290.1 980.5L1292.6 979.9L1295.1 979.4L1297.6 979.5L1300.1 978.8L1302.6 978.1L1305 977.7L1307.5 977.8L1310 977.6L1312.5 977.5L1315 977L1316 976.8M1341.5 974.8L1342.6 974.8L1345.3 975L1348 974.9L1350.7 974.9L1353.2 974.5L1355.7 973.9L1358 973.8L1360.1 974L1362 973L1363.5 970.6L1365.1 968.6L1367 968.2L1369.1 967.4L1371.5 967L1374 967.2L1376.7 966.7L1379.4 966.9L1382 966.6L1384.1 966.4M1410.1 965.3L1412.2 965.4L1414.7 965.6L1417.2 965.1L1419.7 964.9L1422.2 965.1L1424.7 964.9L1427.2 964.8L1429.7 964.7L1432.2 964.5L1434.7 964.3L1437.2 964.1L1439.7 963.9L1442.2 964.2L1444.7 964.4L1447.2 963.7L1449.7 963.5L1452.2 963.3L1454.7 963.1L1455 963.1M1480.5 962L1482 961.9L1484.5 961.7L1487 962.2L1489.5 962L1492 961.9L1494.5 961.9L1497 962.2L1499.5 962L1502 961.7L1504.5 961.4L1507 961.5L1509.5 961.7L1512 962L1514.6 961.4L1517.1 961.4L1519.6 961.6L1522.1 961.3L1524.6 961.2L1524.9 961.2M1550.5 962.2L1552.1 962.6L1554.5 963.9L1556.9 964.9L1559.4 965.2L1561.8 965.3L1564.2 964.9L1566.6 964.2L1568.9 963.8L1571.3 962.5L1573.7 961.9L1576.1 961.6L1578.5 960.9L1581 960.4L1583.5 960.3L1586 960.4L1588.5 960L1591 959.5L1593.6 959.4L1594.9 959.3M1621.1 959.8L1621.1 959.8L1623.6 959.2L1626.1 958.8L1628.6 958.7L1631.1 958.6L1633.6 958.1L1636 957.7L1638.5 957.5L1641 957.7L1643.5 957.3L1646 957L1648.5 956.9L1651 956.3L1653.5 955.6L1655.9 955.7L1658.4 955.6L1660.9 955.2L1663.4 954.6L1665.2 954.4M1690.9 953.3L1690.9 953.3L1693.4 953.4L1695.9 953.1L1698.4 952.7L1700.9 952.4L1703.4 952.3L1705.9 951.8L1708.4 951.4L1710.8 951.7L1713.3 951.5L1715.8 950.6L1718.3 950.6L1720.8 950.6L1723.3 949.8L1725.8 949.6L1728.3 949.8L1730.8 949.4L1733.3 948.8L1735 948.7M1760.7 946.9L1760.7 946.9L1763.2 946.9L1765.7 946.4L1768.2 946L1770.7 945.8L1773.2 945.3L1775.7 945L1778.2 945.1L1780.7 944.7L1783.2 944.3L1785.6 944.4L1788.1 943.9L1790.6 943.9L1793.1 944.1L1795.6 943.9L1798.1 943.4L1800.6 943.2L1803.1 943.2L1804.2 943M1829.5 943L1830.6 942.7L1833.1 942.9L1835.6 943.2L1838.1 943L1840.7 942.4L1843.2 942.6L1845.7 942.8L1848.2 942.3L1850.7 941.8L1853.2 942.2L1855.7 942.2L1858.2 941.9L1860.7 941.6L1863.2 941.3L1865.7 941.4L1868.2 941.7L1870.7 941.6L1873.2 941.2L1873.7 941.2M1899.2 939.5L1900.6 939.7L1903 939.9L1905.5 940.6L1908 941.4L1910.5 941.8L1912.9 941.9L1915.4 942.1L1917.9 942.9L1920.4 943.1L1922.8 943.4L1925.3 943.5L1927.8 943L1930.3 943.1L1932.8 943.1L1935.2 942.5L1937.7 942.2L1940.2 941.7L1942.1 941.2M1967.3 938.9L1967.6 938.9L1970.1 938.9L1972.6 938.7L1975.1 938.2L1977.6 938.5L1980.1 938.5L1982.6 938.5L1985.1 938.4L1987.6 938.2L1990.1 938.3L1992.7 938.3L1995.2 937.8L1997.7 937.9L2000.2 937.9L2002.7 937.6L2005.2 937.7L2007.7 937.8L2010.2 937.3L2011.5 937.2M2037.1 936.8L2037.7 936.8L2040.2 936.9L2042.7 936.6L2045.2 936.6L2047.7 936.8L2050.2 936.4L2052.7 936.6L2055.3 936.9L2057.8 936.6L2060.3 936.7L2062.8 936.4L2065.3 936.3L2067.8 936.5L2070.3 936.6L2072.8 936.1L2075.3 936L2077.8 936L2080.3 935.6L2082.1 935.7M2107.7 933.2L2110.1 933.7L2112.6 934L2115.1 934.6L2117.6 934.9L2120 935.4L2122.5 935.8L2125 936.3L2127.5 936.7L2130 936.8L2132.5 936.7L2135 936.5L2137.4 936.6L2139.9 936.3L2142.4 935.3L2144.9 934.7L2147.3 934L2149.8 933.5L2152.1 933.5M2178 934.1L2179.8 934.4L2182.3 934.2L2184.8 934.2L2187.3 933.5L2189.8 933.3L2192.3 933.3L2194.8 933.1L2197.3 932.6L2199.8 932.2L2202.3 932.1L2204.8 931.7L2207.3 931.3L2209.8 931.1L2212.3 930.7L2214.8 930.8L2217.2 931L2219.7 930.2L2222.2 929.9L2223.1 930M2249 926.9L2249.5 926.9L2252 926.2L2254.5 925.9L2257 925.5L2259.4 925.4L2261.9 925.6L2264.4 925.3L2266.9 925L2269.5 924.7L2272 924.8L2274.5 925L2277 924.7L2279.5 924.6" stroke="#00B050" stroke-width="8.2"/>
</g>
<rect x="1300" y="76" width="980" height="563" fill="#fff"/>
<rect x="1345" y="142" width="119" height="10" rx="3.5" fill="#000"/>
<line class="kd" x1="1349.8" y1="287.1" x2="1462" y2="287.1" stroke="#000" stroke-width="7.6" stroke-dasharray="0.01 13.49"/>
<line class="kd" x1="1349.5" y1="427.5" x2="1459.3" y2="427.5" stroke="#000" stroke-width="7.2" stroke-dasharray="21 26"/>
<line class="kd" x1="1349.5" y1="568" x2="1459.3" y2="568" stroke="#000" stroke-width="7.2" stroke-dasharray="48.3 25.6"/>
<rect x="1835" y="142" width="119" height="10" rx="3.5" fill="#00B050"/>
<line class="kd" x1="1839.8" y1="287.1" x2="1952" y2="287.1" stroke="#00B050" stroke-width="7.6" stroke-dasharray="0.01 13.49"/>
<line class="kd" x1="1839.5" y1="427.5" x2="1949.3" y2="427.5" stroke="#00B050" stroke-width="7.2" stroke-dasharray="21 26"/>
<line class="kd" x1="1839.5" y1="568" x2="1949.3" y2="568" stroke="#00B050" stroke-width="7.2" stroke-dasharray="48.3 25.6"/>
<text class="leg" x="1470.5" y="169">avg. El. <tspan class="one" dx="3.2">1</tspan></text>
<text class="leg" x="1961" y="169">avg. El. 4</text>
<text class="leg" x="1470.5" y="309">540 mV</text>
<text class="leg" x="1961" y="309">395 mV</text>
<text class="leg" x="1470.5" y="450">555 mV</text>
<text class="leg" x="1961" y="450">5<tspan class="one" dx="3.2">1</tspan><tspan dx="-3.2">7</tspan> mV</text>
<text class="leg" x="1470.5" y="590">765 mV</text>
<text class="leg" x="1961" y="590">630 mV</text>
<text class="tick" text-anchor="end" transform="translate(257.2 1345.7) scale(1 1.035)">0</text>
<text class="tick" text-anchor="end" transform="translate(257.2 1220.6) scale(1 1.035)">20</text>
<text class="tick" text-anchor="end" transform="translate(257.2 1095.5) scale(1 1.035)">40</text>
<text class="tick" text-anchor="end" transform="translate(257.2 970.4) scale(1 1.035)">60</text>
<text class="tick" text-anchor="end" transform="translate(257.2 845.3) scale(1 1.035)">80</text>
<text class="tick" text-anchor="end" transform="translate(254 720.2) scale(1 1.035)"><tspan class="one" dx="3.2">1</tspan><tspan dx="-3.2">0</tspan>0</text>
<text class="tick" text-anchor="end" transform="translate(254 595.1) scale(1 1.035)"><tspan class="one" dx="3.2">1</tspan><tspan dx="-3.2">2</tspan>0</text>
<text class="tick" text-anchor="end" transform="translate(254 470) scale(1 1.035)"><tspan class="one" dx="3.2">1</tspan><tspan dx="-3.2">4</tspan>0</text>
<text class="tick" text-anchor="end" transform="translate(254 344.9) scale(1 1.035)"><tspan class="one" dx="3.2">1</tspan><tspan dx="-3.2">6</tspan>0</text>
<text class="tick" text-anchor="end" transform="translate(254 219.8) scale(1 1.035)"><tspan class="one" dx="3.2">1</tspan><tspan dx="-3.2">8</tspan>0</text>
<text class="tick" text-anchor="end" transform="translate(257.2 94.7) scale(1 1.035)">200</text>
<text class="tick" text-anchor="middle" transform="translate(317 1428.7) scale(1 1.035)">0</text>
<text class="tick" text-anchor="middle" transform="translate(644.2 1428.7) scale(1 1.035)">300</text>
<text class="tick" text-anchor="middle" transform="translate(971.3 1428.7) scale(1 1.035)">600</text>
<text class="tick" text-anchor="middle" transform="translate(1298.5 1428.7) scale(1 1.035)">900</text>
<text class="tick" text-anchor="middle" transform="translate(1624.1 1428.7) scale(1 1.035)"><tspan class="one" dx="3.2">1</tspan><tspan dx="-3.2">2</tspan>00</text>
<text class="tick" text-anchor="middle" transform="translate(1951.2 1428.7) scale(1 1.035)"><tspan class="one" dx="3.2">1</tspan><tspan dx="-3.2">5</tspan>00</text>
<text class="tick" text-anchor="middle" transform="translate(2278.4 1428.7) scale(1 1.035)"><tspan class="one" dx="3.2">1</tspan><tspan dx="-3.2">8</tspan>00</text>
<text x="1212.5" y="1526" font-size="78" fill="#000"><tspan font-style="italic">t</tspan> in s</text>
<text transform="translate(123 892.7) rotate(-90)" font-size="86.5" fill="#000"><tspan font-style="italic">j</tspan> in mA/cm²</text>
<g><rect x="1731.1" y="162.1" width="12.7" height="8.6" fill="#fff"/><rect x="1750.4" y="162.1" width="12.8" height="8.6" fill="#fff"/><rect x="2007.6" y="443.1" width="12.7" height="8.6" fill="#fff"/><rect x="2026.9" y="443.1" width="12.8" height="8.6" fill="#fff"/><rect x="148.1" y="713.1" width="12.7" height="8.9" fill="#fff"/><rect x="167.4" y="713.1" width="12.8" height="8.9" fill="#fff"/><rect x="148.1" y="588" width="12.7" height="8.9" fill="#fff"/><rect x="167.4" y="588" width="12.8" height="8.9" fill="#fff"/><rect x="148.1" y="462.9" width="12.7" height="8.9" fill="#fff"/><rect x="167.4" y="462.9" width="12.8" height="8.9" fill="#fff"/><rect x="148.1" y="337.8" width="12.7" height="8.9" fill="#fff"/><rect x="167.4" y="337.8" width="12.8" height="8.9" fill="#fff"/><rect x="148.1" y="212.7" width="12.7" height="8.9" fill="#fff"/><rect x="167.4" y="212.7" width="12.8" height="8.9" fill="#fff"/><rect x="1555.6" y="1421.6" width="12.7" height="8.9" fill="#fff"/><rect x="1574.8" y="1421.6" width="12.8" height="8.9" fill="#fff"/><rect x="1882.7" y="1421.6" width="12.7" height="8.9" fill="#fff"/><rect x="1901.9" y="1421.6" width="12.8" height="8.9" fill="#fff"/><rect x="2209.9" y="1421.6" width="12.7" height="8.9" fill="#fff"/><rect x="2229.1" y="1421.6" width="12.8" height="8.9" fill="#fff"/></g>
</svg>
</body>
</html>
